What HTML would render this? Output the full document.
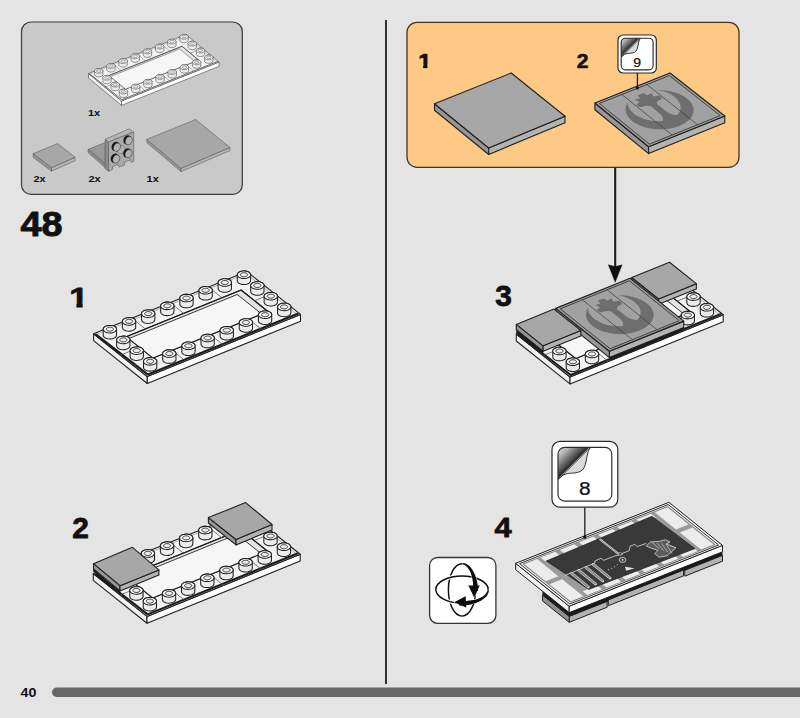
<!DOCTYPE html>
<html lang="en"><head><meta charset="utf-8"><title>48</title>
<style>
html,body{margin:0;padding:0;background:#e4e4e4;}
body{width:800px;height:718px;overflow:hidden;font-family:"Liberation Sans",sans-serif;}
svg{display:block;}
text{font-family:"Liberation Sans",sans-serif;fill:#111;}
.b{font-weight:bold;}
</style></head><body>
<svg width="800" height="718" viewBox="0 0 800 718">
<rect x="0" y="0" width="800" height="718" fill="#e4e4e4"/>
<rect x="21.5" y="22" width="220.8" height="172.4" rx="9.5" ry="9.5" fill="#c9c9c9" stroke="#3a3a3a" stroke-width="1.2"/>
<rect x="407" y="22.3" width="332" height="145" rx="10" ry="10" fill="#fdc984" stroke="#4a3518" stroke-width="1.3"/>
<line x1="386" y1="20" x2="386" y2="684" stroke="#1c1c1c" stroke-width="1.8"/>
<rect x="52" y="687.5" width="760" height="9.4" rx="4.7" ry="4.7" fill="#696765"/>
<text x="20.6" y="697.3" font-size="13.6" class="b" text-anchor="start" fill="#111" transform="translate(20.6 697.3) scale(1.05 1) translate(-20.6 -697.3)">40</text>
<text x="20.6" y="236.3" font-size="35" class="b" text-anchor="start" fill="#111" transform="translate(20.6 236.3) scale(1.08 1) translate(-20.6 -236.3)" stroke="#111" stroke-width="0.9" stroke-linejoin="round">48</text>
<clipPath id="t1"><rect x="66.45" y="282.38" width="22.8" height="20.23"/><rect x="75.28" y="282.38" width="5.13" height="25.65"/></clipPath>
<text x="69.3" y="306.6" font-size="28.5" class="b" text-anchor="start" fill="#111" transform="translate(69.3 306.6) scale(1.2 1) translate(-69.3 -306.6)" stroke="#111" stroke-width="0.8" stroke-linejoin="round" clip-path="url(#t1)">1</text>
<text x="72.2" y="538" font-size="29" class="b" text-anchor="start" fill="#111" transform="translate(72.2 538) scale(1.03 1) translate(-72.2 -538)" stroke="#111" stroke-width="0.8" stroke-linejoin="round">2</text>
<text x="495.2" y="306.2" font-size="29" class="b" text-anchor="start" fill="#111" transform="translate(495.2 306.2) scale(1.03 1) translate(-495.2 -306.2)" stroke="#111" stroke-width="0.8" stroke-linejoin="round">3</text>
<text x="494.6" y="537.2" font-size="28.5" class="b" text-anchor="start" fill="#111" transform="translate(494.6 537.2) scale(1.08 1) translate(-494.6 -537.2)" stroke="#111" stroke-width="0.8" stroke-linejoin="round">4</text>
<clipPath id="t2"><rect x="416.15" y="50.17" width="16.4" height="14.55"/><rect x="422.5" y="50.17" width="3.69" height="18.45"/></clipPath>
<text x="418.2" y="67.6" font-size="20.5" class="b" text-anchor="start" fill="#111" transform="translate(418.2 67.6) scale(1.15 1) translate(-418.2 -67.6)" stroke="#111" stroke-width="0.6" stroke-linejoin="round" clip-path="url(#t2)">1</text>
<text x="576.7" y="67.6" font-size="20.5" class="b" text-anchor="start" fill="#111" transform="translate(576.7 67.6) scale(1.03 1) translate(-576.7 -67.6)" stroke="#111" stroke-width="0.6" stroke-linejoin="round">2</text>
<text x="88" y="115.7" font-size="9.8" class="b" text-anchor="start" fill="#111" transform="translate(88 115.7) scale(1.12 1) translate(-88 -115.7)">1x</text>
<text x="33.4" y="182.2" font-size="9.8" class="b" text-anchor="start" fill="#111" transform="translate(33.4 182.2) scale(1.12 1) translate(-33.4 -182.2)">2x</text>
<text x="88.4" y="182.2" font-size="9.8" class="b" text-anchor="start" fill="#111" transform="translate(88.4 182.2) scale(1.12 1) translate(-88.4 -182.2)">2x</text>
<text x="146.6" y="182.2" font-size="9.8" class="b" text-anchor="start" fill="#111" transform="translate(146.6 182.2) scale(1.12 1) translate(-146.6 -182.2)">1x</text>
<polygon points="88.5,73.5 121.5,101 121.5,105.4 88.5,77.9" fill="#f1f1f1" stroke="#454545" stroke-width="0.62" stroke-linejoin="round" />
<polygon points="121.5,101 219,62 219,66.4 121.5,105.4" fill="#ffffff" stroke="#454545" stroke-width="0.62" stroke-linejoin="round" />
<polygon points="88.5,73.5 186,34.5 219,62 121.5,101" fill="#f3f3f3" stroke="#454545" stroke-width="0.62" stroke-linejoin="round" />
<polyline points="90.95,73.74 185.53,35.91 216.55,61.76" fill="none" stroke="#8a8a8a" stroke-width="0.37" stroke-linejoin="round" stroke-linecap="round" />
<polyline points="90.1,74.08 121.93,99.71 217.24,61.59" fill="none" stroke="#6a6a6a" stroke-width="1" stroke-linejoin="round" stroke-linecap="round" />
<clipPath id="c3"><polygon points="108.94,75.5 182.06,46.25 198.56,60 125.44,89.25"/></clipPath>
<polygon points="108.94,75.5 182.06,46.25 198.56,60 125.44,89.25" fill="#e4e4e4" stroke="#454545" stroke-width="0.62" stroke-linejoin="round" />
<g clip-path="url(#c3)">
<polygon points="108.94,77.17 179.62,48.9 199.43,65.4 128.74,93.67" fill="#f6f6f6" stroke="#454545" stroke-width="0.5" stroke-linejoin="round" />
</g>
<polygon points="108.94,75.5 182.06,46.25 198.56,60 125.44,89.25" fill="none" stroke="#454545" stroke-width="0.62" stroke-linejoin="round" />
<polyline points="113.29,64.09 121.12,70.62" fill="none" stroke="#555" stroke-width="0.43" stroke-linejoin="round" stroke-linecap="round" />
<polyline points="137.62,84.38 145.46,90.91" fill="none" stroke="#555" stroke-width="0.43" stroke-linejoin="round" stroke-linecap="round" />
<polyline points="137.66,54.34 145.5,60.88" fill="none" stroke="#555" stroke-width="0.43" stroke-linejoin="round" stroke-linecap="round" />
<polyline points="162,74.62 169.84,81.16" fill="none" stroke="#555" stroke-width="0.43" stroke-linejoin="round" stroke-linecap="round" />
<polyline points="162.04,44.59 169.88,51.12" fill="none" stroke="#555" stroke-width="0.43" stroke-linejoin="round" stroke-linecap="round" />
<polyline points="186.38,64.88 194.21,71.41" fill="none" stroke="#555" stroke-width="0.43" stroke-linejoin="round" stroke-linecap="round" />
<polyline points="105.61,87.01 117.19,82.38" fill="none" stroke="#555" stroke-width="0.43" stroke-linejoin="round" stroke-linecap="round" />
<polyline points="190.31,53.12 201.89,48.49" fill="none" stroke="#555" stroke-width="0.43" stroke-linejoin="round" stroke-linecap="round" />
<polygon points="179.85,36.64 180.03,36.11 180.41,35.61 180.97,35.17 181.68,34.82 182.51,34.56 183.42,34.41 184.36,34.38 185.28,34.47 186.14,34.67 186.89,34.98 187.5,35.39 187.94,35.86 188.18,36.37 188.21,36.91 188.21,40.51 188.03,41.04 187.66,41.54 187.1,41.98 186.38,42.33 185.55,42.59 184.64,42.74 183.7,42.77 182.78,42.68 181.92,42.48 181.17,42.17 180.56,41.76 180.12,41.29 179.88,40.78 179.85,40.24" fill="#ececec" stroke="#454545" stroke-width="0.59" stroke-linejoin="round" />
<polygon points="187.5,35.39 187.94,35.86 188.18,36.37 188.21,36.91 188.04,37.44 187.66,37.94 187.1,38.38 186.38,38.73 185.55,38.99 184.64,39.14 183.7,39.17 182.78,39.08 181.92,38.88 181.17,38.57 180.56,38.16 180.12,37.69 179.88,37.18 179.85,36.64 180.03,36.11 180.41,35.61 180.97,35.17 181.68,34.82 182.51,34.56 183.42,34.41 184.36,34.38 185.28,34.47 186.14,34.67 186.89,34.98" fill="#ffffff" stroke="#454545" stroke-width="0.59" stroke-linejoin="round" />
<polygon points="185.92,36.02 186.16,36.28 186.29,36.56 186.31,36.85 186.21,37.14 186,37.41 185.7,37.65 185.31,37.84 184.86,37.98 184.36,38.06 183.85,38.08 183.35,38.03 182.88,37.92 182.47,37.75 182.14,37.53 181.91,37.27 181.77,36.99 181.76,36.7 181.85,36.41 182.06,36.14 182.36,35.9 182.75,35.71 183.2,35.57 183.7,35.49 184.21,35.47 184.71,35.52 185.18,35.63 185.59,35.8" fill="#ebebeb" stroke="#454545" stroke-width="0.5" stroke-linejoin="round" />
<polygon points="167.66,41.52 167.84,40.98 168.22,40.49 168.78,40.05 169.49,39.69 170.32,39.43 171.23,39.28 172.17,39.25 173.09,39.34 173.95,39.55 174.71,39.86 175.32,40.26 175.75,40.73 175.99,41.25 176.03,41.78 176.03,45.38 175.85,45.92 175.47,46.41 174.91,46.85 174.19,47.21 173.36,47.47 172.46,47.62 171.52,47.65 170.59,47.56 169.73,47.35 168.98,47.04 168.37,46.64 167.93,46.17 167.69,45.65 167.66,45.12" fill="#ececec" stroke="#454545" stroke-width="0.59" stroke-linejoin="round" />
<polygon points="175.32,40.26 175.75,40.73 175.99,41.25 176.03,41.79 175.85,42.32 175.47,42.81 174.91,43.25 174.19,43.61 173.36,43.87 172.46,44.02 171.52,44.05 170.59,43.96 169.73,43.75 168.98,43.44 168.37,43.04 167.93,42.57 167.69,42.05 167.66,41.51 167.84,40.98 168.22,40.49 168.78,40.05 169.49,39.69 170.32,39.43 171.23,39.28 172.17,39.25 173.09,39.34 173.95,39.55 174.71,39.86" fill="#ffffff" stroke="#454545" stroke-width="0.59" stroke-linejoin="round" />
<polygon points="173.73,40.89 173.97,41.15 174.1,41.43 174.12,41.72 174.02,42.01 173.82,42.28 173.51,42.52 173.12,42.72 172.67,42.86 172.18,42.94 171.67,42.95 171.16,42.91 170.7,42.79 170.29,42.62 169.95,42.41 169.72,42.15 169.59,41.87 169.57,41.58 169.67,41.29 169.87,41.02 170.18,40.78 170.57,40.58 171.02,40.44 171.51,40.36 172.02,40.35 172.52,40.39 172.99,40.51 173.4,40.68" fill="#ebebeb" stroke="#454545" stroke-width="0.5" stroke-linejoin="round" />
<polygon points="188.1,43.52 188.28,42.98 188.66,42.49 189.22,42.05 189.93,41.69 190.76,41.43 191.67,41.28 192.61,41.25 193.53,41.34 194.39,41.55 195.14,41.86 195.75,42.26 196.19,42.73 196.43,43.25 196.46,43.78 196.46,47.38 196.28,47.92 195.91,48.41 195.35,48.85 194.63,49.21 193.8,49.47 192.89,49.62 191.95,49.65 191.03,49.56 190.17,49.35 189.42,49.04 188.81,48.64 188.37,48.17 188.13,47.65 188.1,47.12" fill="#ececec" stroke="#454545" stroke-width="0.59" stroke-linejoin="round" />
<polygon points="195.75,42.26 196.19,42.73 196.43,43.25 196.46,43.79 196.29,44.32 195.91,44.81 195.35,45.25 194.63,45.61 193.8,45.87 192.89,46.02 191.95,46.05 191.03,45.96 190.17,45.75 189.42,45.44 188.81,45.04 188.37,44.57 188.13,44.05 188.1,43.51 188.28,42.98 188.66,42.49 189.22,42.05 189.93,41.69 190.76,41.43 191.67,41.28 192.61,41.25 193.53,41.34 194.39,41.55 195.14,41.86" fill="#ffffff" stroke="#454545" stroke-width="0.59" stroke-linejoin="round" />
<polygon points="194.17,42.89 194.41,43.15 194.54,43.43 194.56,43.72 194.46,44.01 194.25,44.28 193.95,44.52 193.56,44.72 193.11,44.86 192.61,44.94 192.1,44.95 191.6,44.91 191.13,44.79 190.72,44.62 190.39,44.41 190.16,44.15 190.02,43.87 190.01,43.58 190.1,43.29 190.31,43.02 190.61,42.78 191,42.58 191.45,42.44 191.95,42.36 192.46,42.35 192.96,42.39 193.43,42.51 193.84,42.68" fill="#ebebeb" stroke="#454545" stroke-width="0.5" stroke-linejoin="round" />
<polygon points="155.47,46.39 155.65,45.86 156.03,45.36 156.59,44.92 157.31,44.57 158.14,44.31 159.04,44.16 159.98,44.13 160.91,44.22 161.77,44.42 162.52,44.73 163.13,45.14 163.57,45.61 163.81,46.12 163.84,46.66 163.84,50.26 163.66,50.79 163.28,51.29 162.72,51.73 162.01,52.08 161.18,52.34 160.27,52.49 159.33,52.52 158.41,52.43 157.55,52.23 156.79,51.92 156.18,51.51 155.75,51.04 155.51,50.53 155.47,49.99" fill="#ececec" stroke="#454545" stroke-width="0.59" stroke-linejoin="round" />
<polygon points="163.13,45.14 163.57,45.61 163.81,46.12 163.84,46.66 163.66,47.19 163.28,47.69 162.72,48.13 162.01,48.48 161.18,48.74 160.27,48.89 159.33,48.92 158.41,48.83 157.55,48.63 156.79,48.32 156.18,47.91 155.75,47.44 155.51,46.93 155.47,46.39 155.65,45.86 156.03,45.36 156.59,44.92 157.3,44.57 158.14,44.31 159.04,44.16 159.98,44.13 160.91,44.22 161.77,44.42 162.52,44.73" fill="#ffffff" stroke="#454545" stroke-width="0.59" stroke-linejoin="round" />
<polygon points="161.55,45.77 161.78,46.03 161.91,46.31 161.93,46.6 161.83,46.89 161.63,47.16 161.32,47.4 160.94,47.59 160.48,47.73 159.99,47.81 159.48,47.83 158.98,47.78 158.51,47.67 158.1,47.5 157.77,47.28 157.53,47.02 157.4,46.74 157.38,46.45 157.48,46.16 157.68,45.89 157.99,45.65 158.38,45.46 158.83,45.32 159.32,45.24 159.83,45.22 160.34,45.27 160.8,45.38 161.21,45.55" fill="#ebebeb" stroke="#454545" stroke-width="0.5" stroke-linejoin="round" />
<polygon points="196.35,50.39 196.53,49.86 196.91,49.36 197.47,48.92 198.18,48.57 199.01,48.31 199.92,48.16 200.86,48.13 201.78,48.22 202.64,48.42 203.39,48.73 204,49.14 204.44,49.61 204.68,50.12 204.71,50.66 204.71,54.26 204.53,54.79 204.16,55.29 203.6,55.73 202.88,56.08 202.05,56.34 201.14,56.49 200.2,56.52 199.28,56.43 198.42,56.23 197.67,55.92 197.06,55.51 196.62,55.04 196.38,54.53 196.35,53.99" fill="#ececec" stroke="#454545" stroke-width="0.59" stroke-linejoin="round" />
<polygon points="204,49.14 204.44,49.61 204.68,50.12 204.71,50.66 204.54,51.19 204.16,51.69 203.6,52.13 202.88,52.48 202.05,52.74 201.14,52.89 200.2,52.92 199.28,52.83 198.42,52.63 197.67,52.32 197.06,51.91 196.62,51.44 196.38,50.93 196.35,50.39 196.53,49.86 196.91,49.36 197.47,48.92 198.18,48.57 199.01,48.31 199.92,48.16 200.86,48.13 201.78,48.22 202.64,48.42 203.39,48.73" fill="#ffffff" stroke="#454545" stroke-width="0.59" stroke-linejoin="round" />
<polygon points="202.42,49.77 202.66,50.03 202.79,50.31 202.81,50.6 202.71,50.89 202.5,51.16 202.2,51.4 201.81,51.59 201.36,51.73 200.86,51.81 200.35,51.83 199.85,51.78 199.38,51.67 198.97,51.5 198.64,51.28 198.41,51.02 198.27,50.74 198.26,50.45 198.35,50.16 198.56,49.89 198.86,49.65 199.25,49.46 199.7,49.32 200.2,49.24 200.71,49.22 201.21,49.27 201.68,49.38 202.09,49.55" fill="#ebebeb" stroke="#454545" stroke-width="0.5" stroke-linejoin="round" />
<polygon points="143.29,51.27 143.47,50.73 143.84,50.24 144.4,49.8 145.12,49.44 145.95,49.18 146.86,49.03 147.8,49 148.72,49.09 149.58,49.3 150.33,49.61 150.94,50.01 151.38,50.48 151.62,51 151.65,51.53 151.65,55.13 151.47,55.67 151.09,56.16 150.53,56.6 149.82,56.96 148.99,57.22 148.08,57.37 147.14,57.4 146.22,57.31 145.36,57.1 144.61,56.79 144,56.39 143.56,55.92 143.32,55.4 143.29,54.87" fill="#ececec" stroke="#454545" stroke-width="0.59" stroke-linejoin="round" />
<polygon points="150.94,50.01 151.38,50.48 151.62,51 151.65,51.54 151.47,52.07 151.09,52.56 150.53,53 149.82,53.36 148.99,53.62 148.08,53.77 147.14,53.8 146.22,53.71 145.36,53.5 144.61,53.19 144,52.79 143.56,52.32 143.32,51.8 143.29,51.26 143.46,50.73 143.84,50.24 144.4,49.8 145.12,49.44 145.95,49.18 146.86,49.03 147.8,49 148.72,49.09 149.58,49.3 150.33,49.61" fill="#ffffff" stroke="#454545" stroke-width="0.59" stroke-linejoin="round" />
<polygon points="149.36,50.64 149.59,50.9 149.73,51.18 149.74,51.47 149.65,51.76 149.44,52.03 149.14,52.27 148.75,52.47 148.3,52.61 147.8,52.69 147.29,52.7 146.79,52.66 146.32,52.54 145.91,52.37 145.58,52.16 145.34,51.9 145.21,51.62 145.19,51.33 145.29,51.04 145.5,50.77 145.8,50.53 146.19,50.33 146.64,50.19 147.14,50.11 147.65,50.1 148.15,50.14 148.62,50.26 149.03,50.43" fill="#ebebeb" stroke="#454545" stroke-width="0.5" stroke-linejoin="round" />
<polygon points="131.1,56.14 131.28,55.61 131.66,55.11 132.22,54.67 132.93,54.32 133.76,54.06 134.67,53.91 135.61,53.88 136.53,53.97 137.39,54.17 138.14,54.48 138.75,54.89 139.19,55.36 139.43,55.87 139.46,56.41 139.46,60.01 139.28,60.54 138.91,61.04 138.35,61.48 137.63,61.83 136.8,62.09 135.89,62.24 134.95,62.27 134.03,62.18 133.17,61.98 132.42,61.67 131.81,61.26 131.37,60.79 131.13,60.28 131.1,59.74" fill="#ececec" stroke="#454545" stroke-width="0.59" stroke-linejoin="round" />
<polygon points="138.75,54.89 139.19,55.36 139.43,55.87 139.46,56.41 139.29,56.94 138.91,57.44 138.35,57.88 137.63,58.23 136.8,58.49 135.89,58.64 134.95,58.67 134.03,58.58 133.17,58.38 132.42,58.07 131.81,57.66 131.37,57.19 131.13,56.68 131.1,56.14 131.28,55.61 131.66,55.11 132.22,54.67 132.93,54.32 133.76,54.06 134.67,53.91 135.61,53.88 136.53,53.97 137.39,54.17 138.14,54.48" fill="#ffffff" stroke="#454545" stroke-width="0.59" stroke-linejoin="round" />
<polygon points="137.17,55.52 137.41,55.78 137.54,56.06 137.56,56.35 137.46,56.64 137.25,56.91 136.95,57.15 136.56,57.34 136.11,57.48 135.61,57.56 135.1,57.58 134.6,57.53 134.13,57.42 133.72,57.25 133.39,57.03 133.16,56.77 133.02,56.49 133.01,56.2 133.1,55.91 133.31,55.64 133.61,55.4 134,55.21 134.45,55.07 134.95,54.99 135.46,54.97 135.96,55.02 136.43,55.13 136.84,55.3" fill="#ebebeb" stroke="#454545" stroke-width="0.5" stroke-linejoin="round" />
<polygon points="204.6,57.27 204.78,56.73 205.16,56.24 205.72,55.8 206.43,55.44 207.26,55.18 208.17,55.03 209.11,55 210.03,55.09 210.89,55.3 211.64,55.61 212.25,56.01 212.69,56.48 212.93,57 212.96,57.53 212.96,61.13 212.78,61.67 212.41,62.16 211.85,62.6 211.13,62.96 210.3,63.22 209.39,63.37 208.45,63.4 207.53,63.31 206.67,63.1 205.92,62.79 205.31,62.39 204.87,61.92 204.63,61.4 204.6,60.87" fill="#ececec" stroke="#454545" stroke-width="0.59" stroke-linejoin="round" />
<polygon points="212.25,56.01 212.69,56.48 212.93,57 212.96,57.54 212.79,58.07 212.41,58.56 211.85,59 211.13,59.36 210.3,59.62 209.39,59.77 208.45,59.8 207.53,59.71 206.67,59.5 205.92,59.19 205.31,58.79 204.87,58.32 204.63,57.8 204.6,57.26 204.78,56.73 205.16,56.24 205.72,55.8 206.43,55.44 207.26,55.18 208.17,55.03 209.11,55 210.03,55.09 210.89,55.3 211.64,55.61" fill="#ffffff" stroke="#454545" stroke-width="0.59" stroke-linejoin="round" />
<polygon points="210.67,56.64 210.91,56.9 211.04,57.18 211.06,57.47 210.96,57.76 210.75,58.03 210.45,58.27 210.06,58.47 209.61,58.61 209.11,58.69 208.6,58.7 208.1,58.66 207.63,58.54 207.22,58.37 206.89,58.16 206.66,57.9 206.52,57.62 206.51,57.33 206.6,57.04 206.81,56.77 207.11,56.53 207.5,56.33 207.95,56.19 208.45,56.11 208.96,56.1 209.46,56.14 209.93,56.26 210.34,56.43" fill="#ebebeb" stroke="#454545" stroke-width="0.5" stroke-linejoin="round" />
<polygon points="118.91,61.02 119.09,60.48 119.47,59.99 120.03,59.55 120.74,59.19 121.57,58.93 122.48,58.78 123.42,58.75 124.34,58.84 125.2,59.05 125.96,59.36 126.57,59.76 127,60.23 127.24,60.75 127.28,61.28 127.28,64.89 127.1,65.42 126.72,65.91 126.16,66.35 125.44,66.71 124.61,66.97 123.7,67.12 122.77,67.15 121.84,67.06 120.98,66.85 120.23,66.54 119.62,66.14 119.18,65.67 118.94,65.15 118.91,64.61" fill="#ececec" stroke="#454545" stroke-width="0.59" stroke-linejoin="round" />
<polygon points="126.57,59.76 127,60.23 127.24,60.75 127.28,61.29 127.1,61.82 126.72,62.31 126.16,62.75 125.44,63.11 124.61,63.37 123.71,63.52 122.77,63.55 121.84,63.46 120.98,63.25 120.23,62.94 119.62,62.54 119.18,62.07 118.94,61.55 118.91,61.01 119.09,60.48 119.47,59.99 120.03,59.55 120.74,59.19 121.57,58.93 122.48,58.78 123.42,58.75 124.34,58.84 125.2,59.05 125.96,59.36" fill="#ffffff" stroke="#454545" stroke-width="0.59" stroke-linejoin="round" />
<polygon points="124.98,60.39 125.22,60.65 125.35,60.93 125.37,61.22 125.27,61.51 125.07,61.78 124.76,62.02 124.37,62.22 123.92,62.36 123.43,62.44 122.92,62.45 122.41,62.41 121.95,62.29 121.54,62.12 121.2,61.91 120.97,61.65 120.84,61.37 120.82,61.08 120.92,60.79 121.12,60.52 121.43,60.28 121.82,60.08 122.27,59.94 122.76,59.86 123.27,59.85 123.77,59.89 124.24,60.01 124.65,60.18" fill="#ebebeb" stroke="#454545" stroke-width="0.5" stroke-linejoin="round" />
<polygon points="192.41,62.14 192.59,61.61 192.97,61.11 193.53,60.67 194.24,60.32 195.07,60.06 195.98,59.91 196.92,59.88 197.84,59.97 198.7,60.17 199.46,60.48 200.07,60.89 200.5,61.36 200.74,61.87 200.78,62.41 200.78,66.01 200.6,66.54 200.22,67.04 199.66,67.48 198.94,67.83 198.11,68.09 197.21,68.24 196.27,68.27 195.34,68.18 194.48,67.98 193.73,67.67 193.12,67.26 192.68,66.79 192.44,66.28 192.41,65.74" fill="#ececec" stroke="#454545" stroke-width="0.59" stroke-linejoin="round" />
<polygon points="200.07,60.89 200.5,61.36 200.74,61.87 200.78,62.41 200.6,62.94 200.22,63.44 199.66,63.88 198.94,64.23 198.11,64.49 197.21,64.64 196.27,64.67 195.34,64.58 194.48,64.38 193.73,64.07 193.12,63.66 192.68,63.19 192.44,62.68 192.41,62.14 192.59,61.61 192.97,61.11 193.53,60.67 194.24,60.32 195.07,60.06 195.98,59.91 196.92,59.88 197.84,59.97 198.7,60.17 199.46,60.48" fill="#ffffff" stroke="#454545" stroke-width="0.59" stroke-linejoin="round" />
<polygon points="198.48,61.52 198.72,61.78 198.85,62.06 198.87,62.35 198.77,62.64 198.57,62.91 198.26,63.15 197.87,63.34 197.42,63.48 196.93,63.56 196.42,63.58 195.91,63.53 195.45,63.42 195.04,63.25 194.7,63.03 194.47,62.77 194.34,62.49 194.32,62.2 194.42,61.91 194.62,61.64 194.93,61.4 195.31,61.21 195.77,61.07 196.26,60.99 196.77,60.97 197.27,61.02 197.74,61.13 198.15,61.3" fill="#ebebeb" stroke="#454545" stroke-width="0.5" stroke-linejoin="round" />
<polygon points="106.72,65.89 106.9,65.36 107.28,64.86 107.84,64.42 108.56,64.07 109.39,63.81 110.3,63.66 111.23,63.63 112.16,63.72 113.02,63.92 113.77,64.23 114.38,64.64 114.82,65.11 115.06,65.62 115.09,66.16 115.09,69.76 114.91,70.29 114.53,70.79 113.97,71.23 113.26,71.58 112.43,71.84 111.52,71.99 110.58,72.02 109.66,71.93 108.8,71.73 108.04,71.42 107.43,71.01 107,70.54 106.76,70.03 106.72,69.49" fill="#ececec" stroke="#454545" stroke-width="0.59" stroke-linejoin="round" />
<polygon points="114.38,64.64 114.82,65.11 115.06,65.62 115.09,66.16 114.91,66.69 114.53,67.19 113.97,67.63 113.26,67.98 112.43,68.24 111.52,68.39 110.58,68.42 109.66,68.33 108.8,68.13 108.04,67.82 107.43,67.41 107,66.94 106.76,66.43 106.72,65.89 106.9,65.36 107.28,64.86 107.84,64.42 108.56,64.07 109.39,63.81 110.29,63.66 111.23,63.63 112.16,63.72 113.02,63.92 113.77,64.23" fill="#ffffff" stroke="#454545" stroke-width="0.59" stroke-linejoin="round" />
<polygon points="112.8,65.27 113.03,65.53 113.16,65.81 113.18,66.1 113.08,66.39 112.88,66.66 112.57,66.9 112.19,67.09 111.73,67.23 111.24,67.31 110.73,67.33 110.23,67.28 109.76,67.17 109.35,67 109.02,66.78 108.78,66.52 108.65,66.24 108.63,65.95 108.73,65.66 108.93,65.39 109.24,65.15 109.63,64.96 110.08,64.82 110.57,64.74 111.08,64.72 111.59,64.77 112.05,64.88 112.46,65.05" fill="#ebebeb" stroke="#454545" stroke-width="0.5" stroke-linejoin="round" />
<polygon points="180.22,67.02 180.4,66.48 180.78,65.99 181.34,65.55 182.06,65.19 182.89,64.93 183.79,64.78 184.73,64.75 185.66,64.84 186.52,65.05 187.27,65.36 187.88,65.76 188.32,66.23 188.56,66.75 188.59,67.28 188.59,70.89 188.41,71.42 188.03,71.91 187.47,72.35 186.76,72.71 185.93,72.97 185.02,73.12 184.08,73.15 183.16,73.06 182.3,72.85 181.54,72.54 180.93,72.14 180.5,71.67 180.26,71.15 180.22,70.61" fill="#ececec" stroke="#454545" stroke-width="0.59" stroke-linejoin="round" />
<polygon points="187.88,65.76 188.32,66.23 188.56,66.75 188.59,67.29 188.41,67.82 188.03,68.31 187.47,68.75 186.76,69.11 185.93,69.37 185.02,69.52 184.08,69.55 183.16,69.46 182.3,69.25 181.54,68.94 180.93,68.54 180.5,68.07 180.26,67.55 180.22,67.01 180.4,66.48 180.78,65.99 181.34,65.55 182.05,65.19 182.89,64.93 183.79,64.78 184.73,64.75 185.66,64.84 186.52,65.05 187.27,65.36" fill="#ffffff" stroke="#454545" stroke-width="0.59" stroke-linejoin="round" />
<polygon points="186.3,66.39 186.53,66.65 186.66,66.93 186.68,67.22 186.58,67.51 186.38,67.78 186.07,68.02 185.69,68.22 185.23,68.36 184.74,68.44 184.23,68.45 183.73,68.41 183.26,68.29 182.85,68.12 182.52,67.91 182.28,67.65 182.15,67.37 182.13,67.08 182.23,66.79 182.43,66.52 182.74,66.28 183.13,66.08 183.58,65.94 184.07,65.86 184.58,65.85 185.09,65.89 185.55,66.01 185.96,66.18" fill="#ebebeb" stroke="#454545" stroke-width="0.5" stroke-linejoin="round" />
<polygon points="94.54,70.77 94.72,70.23 95.09,69.74 95.65,69.3 96.37,68.94 97.2,68.68 98.11,68.53 99.05,68.5 99.97,68.59 100.83,68.8 101.58,69.11 102.19,69.51 102.63,69.98 102.87,70.5 102.9,71.03 102.9,74.64 102.72,75.17 102.34,75.66 101.78,76.1 101.07,76.46 100.24,76.72 99.33,76.87 98.39,76.9 97.47,76.81 96.61,76.6 95.86,76.29 95.25,75.89 94.81,75.42 94.57,74.9 94.54,74.36" fill="#ececec" stroke="#454545" stroke-width="0.59" stroke-linejoin="round" />
<polygon points="102.19,69.51 102.63,69.98 102.87,70.5 102.9,71.04 102.72,71.57 102.34,72.06 101.78,72.5 101.07,72.86 100.24,73.12 99.33,73.27 98.39,73.3 97.47,73.21 96.61,73 95.86,72.69 95.25,72.29 94.81,71.82 94.57,71.3 94.54,70.76 94.71,70.23 95.09,69.74 95.65,69.3 96.37,68.94 97.2,68.68 98.11,68.53 99.05,68.5 99.97,68.59 100.83,68.8 101.58,69.11" fill="#ffffff" stroke="#454545" stroke-width="0.59" stroke-linejoin="round" />
<polygon points="100.61,70.14 100.84,70.4 100.98,70.68 100.99,70.97 100.9,71.26 100.69,71.53 100.39,71.77 100,71.97 99.55,72.11 99.05,72.19 98.54,72.2 98.04,72.16 97.57,72.04 97.16,71.87 96.83,71.66 96.59,71.4 96.46,71.12 96.44,70.83 96.54,70.54 96.75,70.27 97.05,70.03 97.44,69.83 97.89,69.69 98.39,69.61 98.9,69.6 99.4,69.64 99.87,69.76 100.28,69.93" fill="#ebebeb" stroke="#454545" stroke-width="0.5" stroke-linejoin="round" />
<polygon points="168.04,71.89 168.22,71.36 168.59,70.86 169.15,70.42 169.87,70.07 170.7,69.81 171.61,69.66 172.55,69.63 173.47,69.72 174.33,69.92 175.08,70.23 175.69,70.64 176.13,71.11 176.37,71.62 176.4,72.16 176.4,75.76 176.22,76.29 175.84,76.79 175.28,77.23 174.57,77.58 173.74,77.84 172.83,77.99 171.89,78.02 170.97,77.93 170.11,77.73 169.36,77.42 168.75,77.01 168.31,76.54 168.07,76.03 168.04,75.49" fill="#ececec" stroke="#454545" stroke-width="0.59" stroke-linejoin="round" />
<polygon points="175.69,70.64 176.13,71.11 176.37,71.62 176.4,72.16 176.22,72.69 175.84,73.19 175.28,73.63 174.57,73.98 173.74,74.24 172.83,74.39 171.89,74.42 170.97,74.33 170.11,74.13 169.36,73.82 168.75,73.41 168.31,72.94 168.07,72.43 168.04,71.89 168.21,71.36 168.59,70.86 169.15,70.42 169.87,70.07 170.7,69.81 171.61,69.66 172.55,69.63 173.47,69.72 174.33,69.92 175.08,70.23" fill="#ffffff" stroke="#454545" stroke-width="0.59" stroke-linejoin="round" />
<polygon points="174.11,71.27 174.34,71.53 174.48,71.81 174.49,72.1 174.4,72.39 174.19,72.66 173.89,72.9 173.5,73.09 173.05,73.23 172.55,73.31 172.04,73.33 171.54,73.28 171.07,73.17 170.66,73 170.33,72.78 170.09,72.52 169.96,72.24 169.94,71.95 170.04,71.66 170.25,71.39 170.55,71.15 170.94,70.96 171.39,70.82 171.89,70.74 172.4,70.72 172.9,70.77 173.37,70.88 173.78,71.05" fill="#ebebeb" stroke="#454545" stroke-width="0.5" stroke-linejoin="round" />
<polygon points="155.85,76.77 156.03,76.23 156.41,75.74 156.97,75.3 157.68,74.94 158.51,74.68 159.42,74.53 160.36,74.5 161.28,74.59 162.14,74.8 162.89,75.11 163.5,75.51 163.94,75.98 164.18,76.5 164.21,77.03 164.21,80.64 164.03,81.17 163.66,81.66 163.1,82.1 162.38,82.46 161.55,82.72 160.64,82.87 159.7,82.9 158.78,82.81 157.92,82.6 157.17,82.29 156.56,81.89 156.12,81.42 155.88,80.9 155.85,80.36" fill="#ececec" stroke="#454545" stroke-width="0.59" stroke-linejoin="round" />
<polygon points="163.5,75.51 163.94,75.98 164.18,76.5 164.21,77.04 164.04,77.57 163.66,78.06 163.1,78.5 162.38,78.86 161.55,79.12 160.64,79.27 159.7,79.3 158.78,79.21 157.92,79 157.17,78.69 156.56,78.29 156.12,77.82 155.88,77.3 155.85,76.76 156.03,76.23 156.41,75.74 156.97,75.3 157.68,74.94 158.51,74.68 159.42,74.53 160.36,74.5 161.28,74.59 162.14,74.8 162.89,75.11" fill="#ffffff" stroke="#454545" stroke-width="0.59" stroke-linejoin="round" />
<polygon points="161.92,76.14 162.16,76.4 162.29,76.68 162.31,76.97 162.21,77.26 162,77.53 161.7,77.77 161.31,77.97 160.86,78.11 160.36,78.19 159.85,78.2 159.35,78.16 158.88,78.04 158.47,77.87 158.14,77.66 157.91,77.4 157.77,77.12 157.76,76.83 157.85,76.54 158.06,76.27 158.36,76.03 158.75,75.83 159.2,75.69 159.7,75.61 160.21,75.6 160.71,75.64 161.18,75.76 161.59,75.93" fill="#ebebeb" stroke="#454545" stroke-width="0.5" stroke-linejoin="round" />
<polygon points="102.79,77.64 102.97,77.11 103.34,76.61 103.9,76.17 104.62,75.82 105.45,75.56 106.36,75.41 107.3,75.38 108.22,75.47 109.08,75.67 109.83,75.98 110.44,76.39 110.88,76.86 111.12,77.37 111.15,77.91 111.15,81.51 110.97,82.04 110.59,82.54 110.03,82.98 109.32,83.33 108.49,83.59 107.58,83.74 106.64,83.77 105.72,83.68 104.86,83.48 104.11,83.17 103.5,82.76 103.06,82.29 102.82,81.78 102.79,81.24" fill="#ececec" stroke="#454545" stroke-width="0.59" stroke-linejoin="round" />
<polygon points="110.44,76.39 110.88,76.86 111.12,77.37 111.15,77.91 110.97,78.44 110.59,78.94 110.03,79.38 109.32,79.73 108.49,79.99 107.58,80.14 106.64,80.17 105.72,80.08 104.86,79.88 104.11,79.57 103.5,79.16 103.06,78.69 102.82,78.18 102.79,77.64 102.96,77.11 103.34,76.61 103.9,76.17 104.62,75.82 105.45,75.56 106.36,75.41 107.3,75.38 108.22,75.47 109.08,75.67 109.83,75.98" fill="#ffffff" stroke="#454545" stroke-width="0.59" stroke-linejoin="round" />
<polygon points="108.86,77.02 109.09,77.28 109.23,77.56 109.24,77.85 109.15,78.14 108.94,78.41 108.64,78.65 108.25,78.84 107.8,78.98 107.3,79.06 106.79,79.08 106.29,79.03 105.82,78.92 105.41,78.75 105.08,78.53 104.84,78.27 104.71,77.99 104.69,77.7 104.79,77.41 105,77.14 105.3,76.9 105.69,76.71 106.14,76.57 106.64,76.49 107.15,76.47 107.65,76.52 108.12,76.63 108.53,76.8" fill="#ebebeb" stroke="#454545" stroke-width="0.5" stroke-linejoin="round" />
<polygon points="143.66,81.64 143.84,81.11 144.22,80.61 144.78,80.17 145.49,79.82 146.32,79.56 147.23,79.41 148.17,79.38 149.09,79.47 149.95,79.67 150.71,79.98 151.32,80.39 151.75,80.86 151.99,81.37 152.03,81.91 152.03,85.51 151.85,86.04 151.47,86.54 150.91,86.98 150.19,87.33 149.36,87.59 148.46,87.74 147.52,87.77 146.59,87.68 145.73,87.48 144.98,87.17 144.37,86.76 143.93,86.29 143.69,85.78 143.66,85.24" fill="#ececec" stroke="#454545" stroke-width="0.59" stroke-linejoin="round" />
<polygon points="151.32,80.39 151.75,80.86 151.99,81.37 152.03,81.91 151.85,82.44 151.47,82.94 150.91,83.38 150.19,83.73 149.36,83.99 148.46,84.14 147.52,84.17 146.59,84.08 145.73,83.88 144.98,83.57 144.37,83.16 143.93,82.69 143.69,82.18 143.66,81.64 143.84,81.11 144.22,80.61 144.78,80.17 145.49,79.82 146.32,79.56 147.23,79.41 148.17,79.38 149.09,79.47 149.95,79.67 150.71,79.98" fill="#ffffff" stroke="#454545" stroke-width="0.59" stroke-linejoin="round" />
<polygon points="149.73,81.02 149.97,81.28 150.1,81.56 150.12,81.85 150.02,82.14 149.82,82.41 149.51,82.65 149.12,82.84 148.67,82.98 148.18,83.06 147.67,83.08 147.16,83.03 146.7,82.92 146.29,82.75 145.95,82.53 145.72,82.27 145.59,81.99 145.57,81.7 145.67,81.41 145.87,81.14 146.18,80.9 146.56,80.71 147.02,80.57 147.51,80.49 148.02,80.47 148.52,80.52 148.99,80.63 149.4,80.8" fill="#ebebeb" stroke="#454545" stroke-width="0.5" stroke-linejoin="round" />
<polygon points="111.04,84.52 111.22,83.98 111.59,83.49 112.15,83.05 112.87,82.69 113.7,82.43 114.61,82.28 115.55,82.25 116.47,82.34 117.33,82.55 118.08,82.86 118.69,83.26 119.13,83.73 119.37,84.25 119.4,84.78 119.4,88.39 119.22,88.92 118.84,89.41 118.28,89.85 117.57,90.21 116.74,90.47 115.83,90.62 114.89,90.65 113.97,90.56 113.11,90.35 112.36,90.04 111.75,89.64 111.31,89.17 111.07,88.65 111.04,88.11" fill="#ececec" stroke="#454545" stroke-width="0.59" stroke-linejoin="round" />
<polygon points="118.69,83.26 119.13,83.73 119.37,84.25 119.4,84.79 119.22,85.32 118.84,85.81 118.28,86.25 117.57,86.61 116.74,86.87 115.83,87.02 114.89,87.05 113.97,86.96 113.11,86.75 112.36,86.44 111.75,86.04 111.31,85.57 111.07,85.05 111.04,84.51 111.21,83.98 111.59,83.49 112.15,83.05 112.87,82.69 113.7,82.43 114.61,82.28 115.55,82.25 116.47,82.34 117.33,82.55 118.08,82.86" fill="#ffffff" stroke="#454545" stroke-width="0.59" stroke-linejoin="round" />
<polygon points="117.11,83.89 117.34,84.15 117.48,84.43 117.49,84.72 117.4,85.01 117.19,85.28 116.89,85.52 116.5,85.72 116.05,85.86 115.55,85.94 115.04,85.95 114.54,85.91 114.07,85.79 113.66,85.62 113.33,85.41 113.09,85.15 112.96,84.87 112.94,84.58 113.04,84.29 113.25,84.02 113.55,83.78 113.94,83.58 114.39,83.44 114.89,83.36 115.4,83.35 115.9,83.39 116.37,83.51 116.78,83.68" fill="#ebebeb" stroke="#454545" stroke-width="0.5" stroke-linejoin="round" />
<polygon points="131.47,86.52 131.65,85.98 132.03,85.49 132.59,85.05 133.31,84.69 134.14,84.43 135.04,84.28 135.98,84.25 136.91,84.34 137.77,84.55 138.52,84.86 139.13,85.26 139.57,85.73 139.81,86.25 139.84,86.78 139.84,90.39 139.66,90.92 139.28,91.41 138.72,91.85 138.01,92.21 137.18,92.47 136.27,92.62 135.33,92.65 134.41,92.56 133.55,92.35 132.79,92.04 132.18,91.64 131.75,91.17 131.51,90.65 131.47,90.11" fill="#ececec" stroke="#454545" stroke-width="0.59" stroke-linejoin="round" />
<polygon points="139.13,85.26 139.57,85.73 139.81,86.25 139.84,86.79 139.66,87.32 139.28,87.81 138.72,88.25 138.01,88.61 137.18,88.87 136.27,89.02 135.33,89.05 134.41,88.96 133.55,88.75 132.79,88.44 132.18,88.04 131.75,87.57 131.51,87.05 131.47,86.51 131.65,85.98 132.03,85.49 132.59,85.05 133.31,84.69 134.14,84.43 135.04,84.28 135.98,84.25 136.91,84.34 137.77,84.55 138.52,84.86" fill="#ffffff" stroke="#454545" stroke-width="0.59" stroke-linejoin="round" />
<polygon points="137.55,85.89 137.78,86.15 137.91,86.43 137.93,86.72 137.83,87.01 137.63,87.28 137.32,87.52 136.94,87.72 136.48,87.86 135.99,87.94 135.48,87.95 134.98,87.91 134.51,87.79 134.1,87.62 133.77,87.41 133.53,87.15 133.4,86.87 133.38,86.58 133.48,86.29 133.68,86.02 133.99,85.78 134.38,85.58 134.83,85.44 135.32,85.36 135.83,85.35 136.34,85.39 136.8,85.51 137.21,85.68" fill="#ebebeb" stroke="#454545" stroke-width="0.5" stroke-linejoin="round" />
<polygon points="119.29,91.39 119.47,90.86 119.84,90.36 120.4,89.92 121.12,89.57 121.95,89.31 122.86,89.16 123.8,89.13 124.72,89.22 125.58,89.42 126.33,89.73 126.94,90.14 127.38,90.61 127.62,91.12 127.65,91.66 127.65,95.26 127.47,95.79 127.09,96.29 126.53,96.73 125.82,97.08 124.99,97.34 124.08,97.49 123.14,97.52 122.22,97.43 121.36,97.23 120.61,96.92 120,96.51 119.56,96.04 119.32,95.53 119.29,94.99" fill="#ececec" stroke="#454545" stroke-width="0.59" stroke-linejoin="round" />
<polygon points="126.94,90.14 127.38,90.61 127.62,91.12 127.65,91.66 127.47,92.19 127.09,92.69 126.53,93.13 125.82,93.48 124.99,93.74 124.08,93.89 123.14,93.92 122.22,93.83 121.36,93.63 120.61,93.32 120,92.91 119.56,92.44 119.32,91.93 119.29,91.39 119.46,90.86 119.84,90.36 120.4,89.92 121.12,89.57 121.95,89.31 122.86,89.16 123.8,89.13 124.72,89.22 125.58,89.42 126.33,89.73" fill="#ffffff" stroke="#454545" stroke-width="0.59" stroke-linejoin="round" />
<polygon points="125.36,90.77 125.59,91.03 125.73,91.31 125.74,91.6 125.65,91.89 125.44,92.16 125.14,92.4 124.75,92.59 124.3,92.73 123.8,92.81 123.29,92.83 122.79,92.78 122.32,92.67 121.91,92.5 121.58,92.28 121.34,92.02 121.21,91.74 121.19,91.45 121.29,91.16 121.5,90.89 121.8,90.65 122.19,90.46 122.64,90.32 123.14,90.24 123.65,90.22 124.15,90.27 124.62,90.38 125.03,90.55" fill="#ebebeb" stroke="#454545" stroke-width="0.5" stroke-linejoin="round" />
<polygon points="33.1,153.7 51.5,167.7 51.5,171.2 33.1,157.2" fill="#979797" stroke="#555555" stroke-width="0.55" stroke-linejoin="round" />
<polygon points="51.5,167.7 75.1,157.2 75.1,160.7 51.5,171.2" fill="#b3b3b3" stroke="#555555" stroke-width="0.55" stroke-linejoin="round" />
<polygon points="33.1,153.7 57.6,143.6 75.1,157.2 51.5,167.7" fill="#a7a7a7" stroke="#555555" stroke-width="0.55" stroke-linejoin="round" />
<polygon points="146.8,139.4 181,168.4 181,171.6 146.8,142.6" fill="#979797" stroke="#555555" stroke-width="0.55" stroke-linejoin="round" />
<polygon points="181,168.4 230,147.4 230,150.6 181,171.6" fill="#b3b3b3" stroke="#555555" stroke-width="0.55" stroke-linejoin="round" />
<polygon points="146.8,139.4 195.6,119.5 230,147.4 181,168.4" fill="#a7a7a7" stroke="#555555" stroke-width="0.55" stroke-linejoin="round" />
<polygon points="88.1,149.3 105.2,142.6 105.2,163.9" fill="#999999" stroke="#555555" stroke-width="0.55" stroke-linejoin="round" />
<polygon points="88.1,149.3 105.2,163.9 105.2,167.6 88.1,152.5" fill="#8c8c8c" stroke="#555555" stroke-width="0.55" stroke-linejoin="round" />
<polygon points="105.2,139.3 108.5,142 108.5,171.2 105.2,168.8" fill="#8b8b8b" stroke="#555555" stroke-width="0.55" stroke-linejoin="round" />
<polygon points="105.2,139.3 129.2,128.8 133.7,132 108.5,142" fill="#b6b6b6" stroke="#555555" stroke-width="0.55" stroke-linejoin="round" />
<polygon points="108.5,142 133.7,132 133.7,161.5 131.2,162.4 130.5,159.8 124.6,162 124.3,165.1 119,167.1 118.3,164.4 112.6,166.6 112.3,169.7 108.5,171.2" fill="#aaaaaa" stroke="#555555" stroke-width="0.55" stroke-linejoin="round" />
<ellipse cx="121.2" cy="149.6" rx="3.5" ry="4.2" transform="rotate(20 121.2 149.6)" fill="#b2b2b2" stroke="#6a6a6a" stroke-width="0.5"/>
<ellipse cx="127.3" cy="139.9" rx="3.8" ry="4.8" transform="rotate(22 127.3 139.9)" fill="#161616"/>
<ellipse cx="128.8" cy="140.7" rx="3.3" ry="4.3" transform="rotate(22 128.8 140.7)" fill="#b3b3b3" stroke="#222" stroke-width="0.45"/>
<ellipse cx="115.5" cy="146.4" rx="3.8" ry="4.8" transform="rotate(22 115.5 146.4)" fill="#161616"/>
<ellipse cx="117" cy="147.2" rx="3.3" ry="4.3" transform="rotate(22 117 147.2)" fill="#b3b3b3" stroke="#222" stroke-width="0.45"/>
<ellipse cx="127.1" cy="152.9" rx="3.8" ry="4.8" transform="rotate(22 127.1 152.9)" fill="#161616"/>
<ellipse cx="128.6" cy="153.7" rx="3.3" ry="4.3" transform="rotate(22 128.6 153.7)" fill="#b3b3b3" stroke="#222" stroke-width="0.45"/>
<ellipse cx="114.7" cy="158.2" rx="3.8" ry="4.8" transform="rotate(22 114.7 158.2)" fill="#161616"/>
<ellipse cx="116.2" cy="159" rx="3.3" ry="4.3" transform="rotate(22 116.2 159)" fill="#b3b3b3" stroke="#222" stroke-width="0.45"/>
<polygon points="93.6,333.7 147.3,376.6 147.3,383.5 93.6,340.6" fill="#f1f1f1" stroke="#1f1f1f" stroke-width="1.1" stroke-linejoin="round" />
<polygon points="147.3,376.6 300.5,314.4 300.5,321.3 147.3,383.5" fill="#ffffff" stroke="#1f1f1f" stroke-width="1.1" stroke-linejoin="round" />
<polygon points="93.6,333.7 246.8,271.5 300.5,314.4 147.3,376.6" fill="#f3f3f3" stroke="#1f1f1f" stroke-width="1.1" stroke-linejoin="round" />
<polyline points="97.51,334.05 246.11,273.72 296.59,314.05" fill="none" stroke="#8a8a8a" stroke-width="0.66" stroke-linejoin="round" stroke-linecap="round" />
<polyline points="96.17,334.6 147.93,374.56 297.68,313.76" fill="none" stroke="#1c1c1c" stroke-width="2.1" stroke-linejoin="round" stroke-linecap="round" />
<clipPath id="c4"><polygon points="126.18,336.65 241.08,290 267.93,311.45 153.03,358.1"/></clipPath>
<polygon points="126.18,336.65 241.08,290 267.93,311.45 153.03,358.1" fill="#e4e4e4" stroke="#1f1f1f" stroke-width="1.1" stroke-linejoin="round" />
<g clip-path="url(#c4)">
<polygon points="126.18,339.62 237.25,294.53 269.46,320.26 158.4,365.36" fill="#f6f6f6" stroke="#1f1f1f" stroke-width="0.88" stroke-linejoin="round" />
</g>
<polygon points="126.18,336.65 241.08,290 267.93,311.45 153.03,358.1" fill="none" stroke="#1f1f1f" stroke-width="1.1" stroke-linejoin="round" />
<polyline points="132.57,318.69 145.33,328.88" fill="none" stroke="#555" stroke-width="0.77" stroke-linejoin="round" stroke-linecap="round" />
<polyline points="172.18,350.32 184.93,360.51" fill="none" stroke="#555" stroke-width="0.77" stroke-linejoin="round" stroke-linecap="round" />
<polyline points="170.87,303.14 183.62,313.32" fill="none" stroke="#555" stroke-width="0.77" stroke-linejoin="round" stroke-linecap="round" />
<polyline points="210.47,334.78 223.23,344.96" fill="none" stroke="#555" stroke-width="0.77" stroke-linejoin="round" stroke-linecap="round" />
<polyline points="209.17,287.59 221.93,297.77" fill="none" stroke="#555" stroke-width="0.77" stroke-linejoin="round" stroke-linecap="round" />
<polyline points="248.78,319.23 261.53,329.41" fill="none" stroke="#555" stroke-width="0.77" stroke-linejoin="round" stroke-linecap="round" />
<polyline points="121.41,354.76 139.6,347.38" fill="none" stroke="#555" stroke-width="0.77" stroke-linejoin="round" stroke-linecap="round" />
<polyline points="254.5,300.72 272.69,293.34" fill="none" stroke="#555" stroke-width="0.77" stroke-linejoin="round" stroke-linecap="round" />
<polygon points="237.28,274.58 237.54,273.74 238.12,272.96 238.99,272.26 240.11,271.69 241.42,271.28 242.86,271.04 244.35,270.98 245.82,271.11 247.19,271.43 248.41,271.91 249.4,272.53 250.11,273.27 250.51,274.08 250.59,274.92 250.59,280.92 250.33,281.76 249.75,282.54 248.88,283.24 247.76,283.81 246.45,284.22 245.02,284.46 243.53,284.52 242.06,284.39 240.68,284.07 239.47,283.59 238.48,282.97 237.76,282.23 237.36,281.42 237.28,280.58" fill="#ececec" stroke="#1f1f1f" stroke-width="1.04" stroke-linejoin="round" />
<polygon points="249.4,272.53 250.11,273.27 250.51,274.08 250.59,274.92 250.33,275.76 249.75,276.54 248.88,277.24 247.76,277.81 246.45,278.22 245.02,278.47 243.53,278.52 242.06,278.39 240.68,278.07 239.47,277.59 238.48,276.97 237.77,276.23 237.36,275.42 237.28,274.58 237.54,273.74 238.12,272.96 238.99,272.26 240.11,271.69 241.42,271.28 242.86,271.03 244.35,270.98 245.82,271.11 247.19,271.43 248.41,271.91" fill="#ffffff" stroke="#1f1f1f" stroke-width="1.04" stroke-linejoin="round" />
<polygon points="246.91,273.54 247.29,273.95 247.51,274.39 247.56,274.84 247.42,275.3 247.1,275.72 246.63,276.1 246.02,276.41 245.31,276.64 244.52,276.77 243.71,276.8 242.91,276.73 242.17,276.56 241.51,276.29 240.97,275.96 240.58,275.55 240.36,275.11 240.32,274.66 240.46,274.2 240.77,273.78 241.25,273.4 241.86,273.09 242.57,272.86 243.35,272.73 244.16,272.7 244.96,272.77 245.71,272.94 246.37,273.21" fill="#ebebeb" stroke="#1f1f1f" stroke-width="0.89" stroke-linejoin="round" />
<polygon points="218.13,282.35 218.39,281.52 218.97,280.73 219.84,280.04 220.96,279.47 222.27,279.05 223.71,278.81 225.2,278.75 226.67,278.89 228.04,279.2 229.26,279.69 230.25,280.31 230.96,281.05 231.37,281.86 231.44,282.7 231.44,288.7 231.18,289.53 230.6,290.32 229.73,291.01 228.61,291.58 227.3,292 225.87,292.24 224.38,292.3 222.91,292.16 221.53,291.85 220.32,291.37 219.33,290.74 218.62,290 218.21,289.19 218.13,288.35" fill="#ececec" stroke="#1f1f1f" stroke-width="1.04" stroke-linejoin="round" />
<polygon points="230.25,280.31 230.96,281.04 231.36,281.85 231.44,282.7 231.18,283.53 230.6,284.32 229.73,285.01 228.61,285.58 227.3,286 225.87,286.24 224.38,286.3 222.91,286.16 221.53,285.85 220.32,285.37 219.33,284.74 218.62,284.01 218.21,283.2 218.13,282.35 218.39,281.52 218.97,280.73 219.84,280.04 220.96,279.47 222.27,279.05 223.71,278.81 225.2,278.75 226.67,278.89 228.04,279.2 229.26,279.68" fill="#ffffff" stroke="#1f1f1f" stroke-width="1.04" stroke-linejoin="round" />
<polygon points="227.76,281.32 228.14,281.72 228.36,282.16 228.41,282.62 228.27,283.07 227.95,283.5 227.48,283.88 226.87,284.19 226.16,284.41 225.37,284.55 224.56,284.58 223.76,284.5 223.02,284.33 222.36,284.07 221.82,283.73 221.43,283.33 221.21,282.89 221.17,282.43 221.31,281.98 221.62,281.55 222.1,281.17 222.71,280.86 223.42,280.64 224.2,280.5 225.01,280.47 225.81,280.55 226.56,280.72 227.22,280.98" fill="#ebebeb" stroke="#1f1f1f" stroke-width="0.89" stroke-linejoin="round" />
<polygon points="250.71,285.3 250.97,284.47 251.55,283.68 252.42,282.99 253.54,282.42 254.85,282 256.28,281.76 257.77,281.7 259.24,281.84 260.62,282.15 261.83,282.63 262.82,283.26 263.54,284 263.94,284.81 264.01,285.65 264.01,291.65 263.76,292.48 263.18,293.27 262.31,293.96 261.19,294.53 259.88,294.95 258.44,295.19 256.95,295.25 255.48,295.11 254.1,294.8 252.89,294.31 251.91,293.69 251.19,292.95 250.78,292.14 250.71,291.3" fill="#ececec" stroke="#1f1f1f" stroke-width="1.04" stroke-linejoin="round" />
<polygon points="262.82,283.26 263.53,283.99 263.94,284.8 264.02,285.65 263.76,286.48 263.18,287.27 262.31,287.96 261.19,288.53 259.88,288.95 258.44,289.19 256.95,289.25 255.48,289.11 254.11,288.8 252.89,288.32 251.9,287.69 251.19,286.96 250.79,286.15 250.71,285.3 250.97,284.47 251.55,283.68 252.42,282.99 253.54,282.42 254.85,282 256.28,281.76 257.77,281.7 259.24,281.84 260.62,282.15 261.83,282.63" fill="#ffffff" stroke="#1f1f1f" stroke-width="1.04" stroke-linejoin="round" />
<polygon points="260.33,284.27 260.72,284.67 260.94,285.11 260.98,285.57 260.84,286.02 260.53,286.45 260.05,286.83 259.44,287.14 258.73,287.36 257.95,287.5 257.14,287.53 256.34,287.45 255.59,287.28 254.93,287.02 254.39,286.68 254.01,286.28 253.79,285.84 253.74,285.38 253.88,284.93 254.2,284.5 254.67,284.12 255.28,283.81 255.99,283.59 256.78,283.45 257.59,283.42 258.39,283.5 259.13,283.67 259.79,283.93" fill="#ebebeb" stroke="#1f1f1f" stroke-width="0.89" stroke-linejoin="round" />
<polygon points="198.99,290.13 199.24,289.29 199.82,288.51 200.69,287.81 201.81,287.24 203.12,286.83 204.56,286.58 206.05,286.53 207.52,286.66 208.9,286.98 210.11,287.46 211.09,288.08 211.81,288.82 212.22,289.63 212.29,290.47 212.29,296.47 212.03,297.31 211.45,298.09 210.58,298.79 209.46,299.36 208.15,299.77 206.72,300.01 205.23,300.07 203.76,299.94 202.38,299.62 201.17,299.14 200.18,298.52 199.47,297.78 199.06,296.97 198.99,296.13" fill="#ececec" stroke="#1f1f1f" stroke-width="1.04" stroke-linejoin="round" />
<polygon points="211.1,288.08 211.81,288.82 212.21,289.63 212.29,290.47 212.03,291.31 211.45,292.09 210.58,292.79 209.46,293.36 208.15,293.77 206.72,294.02 205.23,294.07 203.76,293.94 202.38,293.62 201.17,293.14 200.18,292.52 199.47,291.78 199.06,290.97 198.98,290.13 199.24,289.29 199.82,288.51 200.69,287.81 201.81,287.24 203.12,286.83 204.56,286.58 206.05,286.53 207.52,286.66 208.89,286.98 210.11,287.46" fill="#ffffff" stroke="#1f1f1f" stroke-width="1.04" stroke-linejoin="round" />
<polygon points="208.61,289.09 208.99,289.5 209.21,289.94 209.26,290.39 209.12,290.85 208.8,291.27 208.33,291.65 207.72,291.96 207.01,292.19 206.22,292.32 205.41,292.35 204.61,292.28 203.87,292.11 203.21,291.84 202.67,291.51 202.28,291.1 202.06,290.66 202.02,290.21 202.16,289.75 202.47,289.33 202.95,288.95 203.56,288.64 204.27,288.41 205.05,288.28 205.86,288.25 206.66,288.32 207.41,288.49 208.07,288.76" fill="#ebebeb" stroke="#1f1f1f" stroke-width="0.89" stroke-linejoin="round" />
<polygon points="264.13,296.03 264.39,295.19 264.97,294.41 265.84,293.71 266.96,293.14 268.27,292.73 269.71,292.49 271.2,292.43 272.67,292.56 274.05,292.88 275.26,293.36 276.25,293.98 276.96,294.72 277.37,295.53 277.44,296.37 277.44,302.37 277.18,303.21 276.6,303.99 275.73,304.69 274.61,305.26 273.3,305.67 271.87,305.92 270.38,305.97 268.91,305.84 267.53,305.52 266.32,305.04 265.33,304.42 264.62,303.68 264.21,302.87 264.13,302.03" fill="#ececec" stroke="#1f1f1f" stroke-width="1.04" stroke-linejoin="round" />
<polygon points="276.25,293.98 276.96,294.72 277.36,295.53 277.44,296.37 277.18,297.21 276.6,297.99 275.73,298.69 274.61,299.26 273.3,299.67 271.87,299.92 270.38,299.97 268.91,299.84 267.53,299.52 266.32,299.04 265.33,298.42 264.62,297.68 264.21,296.87 264.13,296.03 264.39,295.19 264.97,294.41 265.84,293.71 266.96,293.14 268.27,292.73 269.71,292.48 271.2,292.43 272.67,292.56 274.04,292.88 275.26,293.36" fill="#ffffff" stroke="#1f1f1f" stroke-width="1.04" stroke-linejoin="round" />
<polygon points="273.76,294.99 274.14,295.4 274.36,295.84 274.41,296.29 274.27,296.75 273.95,297.17 273.48,297.55 272.87,297.86 272.16,298.09 271.37,298.22 270.56,298.25 269.76,298.18 269.02,298.01 268.36,297.74 267.82,297.41 267.43,297 267.21,296.56 267.17,296.11 267.31,295.65 267.62,295.23 268.1,294.85 268.71,294.54 269.42,294.31 270.2,294.18 271.01,294.15 271.81,294.22 272.56,294.39 273.22,294.66" fill="#ebebeb" stroke="#1f1f1f" stroke-width="0.89" stroke-linejoin="round" />
<polygon points="179.84,297.9 180.09,297.07 180.67,296.28 181.54,295.59 182.66,295.02 183.97,294.6 185.41,294.36 186.9,294.3 188.37,294.44 189.75,294.75 190.96,295.24 191.94,295.86 192.66,296.6 193.06,297.4 193.14,298.25 193.14,304.25 192.88,305.08 192.3,305.87 191.43,306.56 190.31,307.13 189,307.55 187.57,307.79 186.08,307.85 184.61,307.71 183.23,307.4 182.02,306.92 181.03,306.29 180.31,305.56 179.91,304.75 179.84,303.9" fill="#ececec" stroke="#1f1f1f" stroke-width="1.04" stroke-linejoin="round" />
<polygon points="191.95,295.86 192.66,296.59 193.06,297.4 193.14,298.25 192.88,299.08 192.3,299.87 191.43,300.56 190.31,301.13 189,301.55 187.57,301.79 186.08,301.85 184.61,301.71 183.23,301.4 182.02,300.92 181.03,300.29 180.32,299.56 179.91,298.75 179.83,297.9 180.09,297.07 180.67,296.28 181.54,295.59 182.66,295.02 183.97,294.6 185.41,294.36 186.9,294.3 188.37,294.44 189.74,294.75 190.96,295.23" fill="#ffffff" stroke="#1f1f1f" stroke-width="1.04" stroke-linejoin="round" />
<polygon points="189.46,296.87 189.84,297.27 190.06,297.71 190.11,298.17 189.97,298.62 189.65,299.05 189.18,299.43 188.57,299.74 187.86,299.96 187.07,300.1 186.26,300.13 185.46,300.05 184.72,299.88 184.06,299.62 183.52,299.28 183.13,298.88 182.91,298.44 182.87,297.98 183.01,297.53 183.32,297.1 183.8,296.72 184.41,296.41 185.12,296.19 185.9,296.05 186.71,296.02 187.51,296.1 188.26,296.27 188.92,296.53" fill="#ebebeb" stroke="#1f1f1f" stroke-width="0.89" stroke-linejoin="round" />
<polygon points="160.69,305.68 160.94,304.84 161.52,304.06 162.39,303.36 163.51,302.79 164.82,302.38 166.26,302.13 167.75,302.08 169.22,302.21 170.59,302.53 171.81,303.01 172.79,303.63 173.51,304.37 173.91,305.18 173.99,306.02 173.99,312.02 173.73,312.86 173.15,313.64 172.28,314.34 171.16,314.91 169.85,315.32 168.42,315.56 166.93,315.62 165.46,315.49 164.08,315.17 162.87,314.69 161.88,314.07 161.16,313.33 160.76,312.52 160.69,311.68" fill="#ececec" stroke="#1f1f1f" stroke-width="1.04" stroke-linejoin="round" />
<polygon points="172.8,303.63 173.51,304.37 173.91,305.18 173.99,306.02 173.73,306.86 173.15,307.64 172.28,308.34 171.16,308.91 169.85,309.32 168.42,309.57 166.93,309.62 165.46,309.49 164.08,309.17 162.87,308.69 161.88,308.07 161.17,307.33 160.76,306.52 160.68,305.68 160.94,304.84 161.52,304.06 162.39,303.36 163.51,302.79 164.82,302.38 166.26,302.13 167.75,302.08 169.22,302.21 170.59,302.53 171.81,303.01" fill="#ffffff" stroke="#1f1f1f" stroke-width="1.04" stroke-linejoin="round" />
<polygon points="170.31,304.64 170.69,305.05 170.91,305.49 170.96,305.94 170.82,306.4 170.5,306.82 170.03,307.2 169.42,307.51 168.71,307.74 167.92,307.87 167.11,307.9 166.31,307.83 165.57,307.66 164.91,307.39 164.37,307.06 163.98,306.65 163.76,306.21 163.72,305.76 163.86,305.3 164.17,304.88 164.65,304.5 165.26,304.19 165.97,303.96 166.75,303.83 167.56,303.8 168.36,303.87 169.11,304.04 169.77,304.31" fill="#ebebeb" stroke="#1f1f1f" stroke-width="0.89" stroke-linejoin="round" />
<polygon points="277.56,306.75 277.82,305.92 278.4,305.13 279.27,304.44 280.39,303.87 281.7,303.45 283.13,303.21 284.62,303.15 286.09,303.29 287.47,303.6 288.68,304.08 289.67,304.71 290.38,305.44 290.79,306.25 290.87,307.1 290.87,313.1 290.61,313.93 290.03,314.72 289.16,315.41 288.04,315.98 286.73,316.4 285.29,316.64 283.8,316.7 282.33,316.56 280.95,316.25 279.74,315.76 278.75,315.14 278.04,314.4 277.63,313.6 277.56,312.75" fill="#ececec" stroke="#1f1f1f" stroke-width="1.04" stroke-linejoin="round" />
<polygon points="289.67,304.71 290.38,305.44 290.79,306.25 290.87,307.1 290.61,307.93 290.03,308.72 289.16,309.41 288.04,309.98 286.73,310.4 285.29,310.64 283.8,310.7 282.33,310.56 280.96,310.25 279.74,309.77 278.75,309.14 278.04,308.41 277.64,307.6 277.56,306.75 277.82,305.92 278.4,305.13 279.27,304.44 280.39,303.87 281.7,303.45 283.13,303.21 284.62,303.15 286.09,303.29 287.47,303.6 288.68,304.08" fill="#ffffff" stroke="#1f1f1f" stroke-width="1.04" stroke-linejoin="round" />
<polygon points="287.18,305.72 287.57,306.12 287.79,306.56 287.83,307.02 287.69,307.47 287.38,307.9 286.9,308.28 286.29,308.59 285.58,308.81 284.8,308.95 283.99,308.98 283.19,308.9 282.44,308.73 281.78,308.47 281.24,308.13 280.86,307.73 280.64,307.29 280.59,306.83 280.73,306.38 281.05,305.95 281.52,305.57 282.13,305.26 282.84,305.04 283.63,304.9 284.44,304.87 285.24,304.95 285.98,305.12 286.64,305.38" fill="#ebebeb" stroke="#1f1f1f" stroke-width="0.89" stroke-linejoin="round" />
<polygon points="141.53,313.45 141.79,312.62 142.37,311.83 143.24,311.14 144.36,310.57 145.67,310.15 147.11,309.91 148.6,309.85 150.07,309.99 151.44,310.3 152.66,310.79 153.65,311.41 154.36,312.14 154.76,312.95 154.84,313.8 154.84,319.8 154.58,320.63 154,321.42 153.13,322.11 152.01,322.68 150.7,323.1 149.27,323.34 147.78,323.4 146.31,323.26 144.93,322.95 143.72,322.46 142.73,321.84 142.01,321.11 141.61,320.3 141.53,319.45" fill="#ececec" stroke="#1f1f1f" stroke-width="1.04" stroke-linejoin="round" />
<polygon points="153.65,311.41 154.36,312.14 154.76,312.95 154.84,313.8 154.58,314.63 154,315.42 153.13,316.11 152.01,316.68 150.7,317.1 149.27,317.34 147.78,317.4 146.31,317.26 144.93,316.95 143.72,316.47 142.73,315.84 142.02,315.11 141.61,314.3 141.53,313.45 141.79,312.62 142.37,311.83 143.24,311.14 144.36,310.57 145.67,310.15 147.11,309.91 148.6,309.85 150.07,309.99 151.44,310.3 152.66,310.78" fill="#ffffff" stroke="#1f1f1f" stroke-width="1.04" stroke-linejoin="round" />
<polygon points="151.16,312.42 151.54,312.82 151.76,313.26 151.81,313.72 151.67,314.17 151.35,314.6 150.88,314.98 150.27,315.29 149.56,315.51 148.77,315.65 147.96,315.68 147.16,315.6 146.42,315.43 145.76,315.17 145.22,314.83 144.83,314.43 144.61,313.99 144.57,313.53 144.71,313.08 145.02,312.65 145.5,312.27 146.11,311.96 146.82,311.74 147.6,311.6 148.41,311.57 149.21,311.65 149.96,311.82 150.62,312.08" fill="#ebebeb" stroke="#1f1f1f" stroke-width="0.89" stroke-linejoin="round" />
<polygon points="258.41,314.53 258.67,313.69 259.25,312.91 260.12,312.21 261.24,311.64 262.55,311.23 263.98,310.99 265.47,310.93 266.94,311.06 268.32,311.38 269.53,311.86 270.52,312.48 271.24,313.22 271.64,314.03 271.71,314.87 271.71,320.87 271.46,321.71 270.88,322.49 270.01,323.19 268.89,323.76 267.58,324.17 266.14,324.42 264.65,324.47 263.18,324.34 261.81,324.02 260.59,323.54 259.61,322.92 258.89,322.18 258.49,321.37 258.41,320.53" fill="#ececec" stroke="#1f1f1f" stroke-width="1.04" stroke-linejoin="round" />
<polygon points="270.52,312.48 271.23,313.22 271.64,314.03 271.72,314.87 271.46,315.71 270.88,316.49 270.01,317.19 268.89,317.76 267.58,318.17 266.14,318.42 264.65,318.47 263.18,318.34 261.81,318.02 260.59,317.54 259.6,316.92 258.89,316.18 258.49,315.37 258.41,314.53 258.67,313.69 259.25,312.91 260.12,312.21 261.24,311.64 262.55,311.23 263.98,310.98 265.47,310.93 266.94,311.06 268.32,311.38 269.53,311.86" fill="#ffffff" stroke="#1f1f1f" stroke-width="1.04" stroke-linejoin="round" />
<polygon points="268.03,313.49 268.42,313.9 268.64,314.34 268.68,314.79 268.54,315.25 268.23,315.67 267.75,316.05 267.14,316.36 266.43,316.59 265.65,316.72 264.84,316.75 264.04,316.68 263.29,316.51 262.63,316.24 262.09,315.91 261.71,315.5 261.49,315.06 261.44,314.61 261.58,314.15 261.9,313.73 262.37,313.35 262.98,313.04 263.69,312.81 264.48,312.68 265.29,312.65 266.09,312.72 266.83,312.89 267.49,313.16" fill="#ebebeb" stroke="#1f1f1f" stroke-width="0.89" stroke-linejoin="round" />
<polygon points="122.39,321.23 122.64,320.39 123.22,319.61 124.09,318.91 125.21,318.34 126.52,317.93 127.96,317.69 129.45,317.63 130.92,317.76 132.29,318.08 133.51,318.56 134.5,319.18 135.21,319.92 135.62,320.73 135.69,321.57 135.69,327.57 135.43,328.41 134.85,329.19 133.98,329.89 132.86,330.46 131.55,330.87 130.12,331.12 128.63,331.17 127.16,331.04 125.78,330.72 124.57,330.24 123.58,329.62 122.86,328.88 122.46,328.07 122.39,327.23" fill="#ececec" stroke="#1f1f1f" stroke-width="1.04" stroke-linejoin="round" />
<polygon points="134.5,319.18 135.21,319.92 135.61,320.73 135.69,321.57 135.43,322.41 134.85,323.19 133.98,323.89 132.86,324.46 131.55,324.87 130.12,325.12 128.63,325.17 127.16,325.04 125.78,324.72 124.57,324.24 123.58,323.62 122.87,322.88 122.46,322.07 122.38,321.23 122.64,320.39 123.22,319.61 124.09,318.91 125.21,318.34 126.52,317.93 127.96,317.68 129.45,317.63 130.92,317.76 132.29,318.08 133.51,318.56" fill="#ffffff" stroke="#1f1f1f" stroke-width="1.04" stroke-linejoin="round" />
<polygon points="132.01,320.19 132.39,320.6 132.61,321.04 132.66,321.49 132.52,321.95 132.2,322.37 131.73,322.75 131.12,323.06 130.41,323.29 129.62,323.42 128.81,323.45 128.01,323.38 127.27,323.21 126.61,322.94 126.07,322.61 125.68,322.2 125.46,321.76 125.42,321.31 125.56,320.85 125.87,320.43 126.35,320.05 126.96,319.74 127.67,319.51 128.45,319.38 129.26,319.35 130.06,319.42 130.81,319.59 131.47,319.86" fill="#ebebeb" stroke="#1f1f1f" stroke-width="0.89" stroke-linejoin="round" />
<polygon points="239.26,322.3 239.52,321.47 240.1,320.68 240.97,319.99 242.09,319.42 243.4,319 244.83,318.76 246.32,318.7 247.79,318.84 249.17,319.15 250.38,319.63 251.37,320.26 252.09,321 252.49,321.81 252.56,322.65 252.56,328.65 252.31,329.48 251.73,330.27 250.86,330.96 249.74,331.53 248.43,331.95 246.99,332.19 245.5,332.25 244.03,332.11 242.66,331.8 241.44,331.31 240.46,330.69 239.74,329.95 239.34,329.14 239.26,328.3" fill="#ececec" stroke="#1f1f1f" stroke-width="1.04" stroke-linejoin="round" />
<polygon points="251.37,320.26 252.08,320.99 252.49,321.8 252.57,322.65 252.31,323.48 251.73,324.27 250.86,324.96 249.74,325.53 248.43,325.95 246.99,326.19 245.5,326.25 244.03,326.11 242.66,325.8 241.44,325.32 240.45,324.69 239.74,323.96 239.34,323.15 239.26,322.3 239.52,321.47 240.1,320.68 240.97,319.99 242.09,319.42 243.4,319 244.83,318.76 246.32,318.7 247.79,318.84 249.17,319.15 250.38,319.63" fill="#ffffff" stroke="#1f1f1f" stroke-width="1.04" stroke-linejoin="round" />
<polygon points="248.88,321.27 249.27,321.67 249.49,322.11 249.53,322.57 249.39,323.02 249.08,323.45 248.6,323.83 247.99,324.14 247.28,324.36 246.5,324.5 245.69,324.53 244.89,324.45 244.14,324.28 243.48,324.02 242.94,323.68 242.56,323.28 242.34,322.84 242.29,322.38 242.43,321.93 242.75,321.5 243.22,321.12 243.83,320.81 244.54,320.59 245.33,320.45 246.14,320.42 246.94,320.5 247.68,320.67 248.34,320.93" fill="#ebebeb" stroke="#1f1f1f" stroke-width="0.89" stroke-linejoin="round" />
<polygon points="103.23,329 103.49,328.17 104.07,327.38 104.94,326.69 106.06,326.12 107.37,325.7 108.81,325.46 110.3,325.4 111.77,325.54 113.14,325.85 114.36,326.33 115.34,326.96 116.06,327.69 116.47,328.5 116.54,329.35 116.54,335.35 116.28,336.18 115.7,336.97 114.83,337.66 113.71,338.23 112.4,338.65 110.97,338.89 109.48,338.95 108.01,338.81 106.63,338.5 105.42,338.01 104.43,337.39 103.72,336.65 103.31,335.85 103.23,335" fill="#ececec" stroke="#1f1f1f" stroke-width="1.04" stroke-linejoin="round" />
<polygon points="115.35,326.96 116.06,327.69 116.46,328.5 116.54,329.35 116.28,330.18 115.7,330.97 114.83,331.66 113.71,332.23 112.4,332.65 110.97,332.89 109.48,332.95 108.01,332.81 106.63,332.5 105.42,332.02 104.43,331.39 103.72,330.66 103.31,329.85 103.23,329 103.49,328.17 104.07,327.38 104.94,326.69 106.06,326.12 107.37,325.7 108.81,325.46 110.3,325.4 111.77,325.54 113.14,325.85 114.36,326.33" fill="#ffffff" stroke="#1f1f1f" stroke-width="1.04" stroke-linejoin="round" />
<polygon points="112.86,327.97 113.24,328.37 113.46,328.81 113.51,329.27 113.37,329.72 113.05,330.15 112.58,330.53 111.97,330.84 111.26,331.06 110.47,331.2 109.66,331.23 108.86,331.15 108.12,330.98 107.46,330.72 106.92,330.38 106.53,329.98 106.31,329.54 106.27,329.08 106.41,328.63 106.72,328.2 107.2,327.82 107.81,327.51 108.52,327.29 109.3,327.15 110.11,327.12 110.91,327.2 111.66,327.37 112.32,327.63" fill="#ebebeb" stroke="#1f1f1f" stroke-width="0.89" stroke-linejoin="round" />
<polygon points="220.11,330.08 220.37,329.24 220.95,328.46 221.82,327.76 222.94,327.19 224.25,326.78 225.68,326.54 227.17,326.48 228.64,326.61 230.02,326.93 231.23,327.41 232.22,328.03 232.94,328.77 233.34,329.58 233.41,330.42 233.41,336.42 233.16,337.26 232.58,338.04 231.71,338.74 230.59,339.31 229.28,339.72 227.84,339.96 226.35,340.02 224.88,339.89 223.5,339.57 222.29,339.09 221.31,338.47 220.59,337.73 220.19,336.92 220.11,336.08" fill="#ececec" stroke="#1f1f1f" stroke-width="1.04" stroke-linejoin="round" />
<polygon points="232.22,328.03 232.93,328.77 233.34,329.58 233.42,330.42 233.16,331.26 232.58,332.04 231.71,332.74 230.59,333.31 229.28,333.72 227.84,333.97 226.35,334.02 224.88,333.89 223.51,333.57 222.29,333.09 221.3,332.47 220.59,331.73 220.19,330.92 220.11,330.08 220.37,329.24 220.95,328.46 221.82,327.76 222.94,327.19 224.25,326.78 225.68,326.53 227.17,326.48 228.64,326.61 230.02,326.93 231.23,327.41" fill="#ffffff" stroke="#1f1f1f" stroke-width="1.04" stroke-linejoin="round" />
<polygon points="229.73,329.04 230.12,329.45 230.34,329.89 230.38,330.34 230.24,330.8 229.93,331.22 229.45,331.6 228.84,331.91 228.13,332.14 227.35,332.27 226.54,332.3 225.74,332.23 224.99,332.06 224.33,331.79 223.79,331.46 223.41,331.05 223.19,330.61 223.14,330.16 223.28,329.7 223.6,329.28 224.07,328.9 224.68,328.59 225.39,328.36 226.18,328.23 226.99,328.2 227.79,328.27 228.53,328.44 229.19,328.71" fill="#ebebeb" stroke="#1f1f1f" stroke-width="0.89" stroke-linejoin="round" />
<polygon points="200.96,337.85 201.22,337.02 201.8,336.23 202.67,335.54 203.79,334.97 205.1,334.55 206.53,334.31 208.02,334.25 209.49,334.39 210.87,334.7 212.08,335.19 213.07,335.81 213.78,336.55 214.19,337.36 214.26,338.2 214.26,344.2 214.01,345.03 213.43,345.82 212.56,346.51 211.44,347.08 210.13,347.5 208.69,347.74 207.2,347.8 205.73,347.66 204.35,347.35 203.14,346.87 202.16,346.24 201.44,345.5 201.03,344.69 200.96,343.85" fill="#ececec" stroke="#1f1f1f" stroke-width="1.04" stroke-linejoin="round" />
<polygon points="213.07,335.81 213.78,336.54 214.19,337.35 214.27,338.2 214.01,339.03 213.43,339.82 212.56,340.51 211.44,341.08 210.13,341.5 208.69,341.74 207.2,341.8 205.73,341.66 204.36,341.35 203.14,340.87 202.15,340.24 201.44,339.51 201.04,338.7 200.96,337.85 201.22,337.02 201.8,336.23 202.67,335.54 203.79,334.97 205.1,334.55 206.53,334.31 208.02,334.25 209.49,334.39 210.87,334.7 212.08,335.18" fill="#ffffff" stroke="#1f1f1f" stroke-width="1.04" stroke-linejoin="round" />
<polygon points="210.58,336.82 210.97,337.22 211.19,337.66 211.23,338.12 211.09,338.57 210.78,339 210.3,339.38 209.69,339.69 208.98,339.91 208.2,340.05 207.39,340.08 206.59,340 205.84,339.83 205.18,339.57 204.64,339.23 204.26,338.83 204.04,338.39 203.99,337.93 204.13,337.48 204.45,337.05 204.92,336.67 205.53,336.36 206.24,336.14 207.03,336 207.84,335.97 208.64,336.05 209.38,336.22 210.04,336.48" fill="#ebebeb" stroke="#1f1f1f" stroke-width="0.89" stroke-linejoin="round" />
<polygon points="116.66,339.73 116.92,338.89 117.5,338.11 118.37,337.41 119.49,336.84 120.8,336.43 122.23,336.19 123.72,336.13 125.19,336.26 126.57,336.58 127.78,337.06 128.77,337.68 129.49,338.42 129.89,339.23 129.97,340.07 129.97,346.07 129.71,346.91 129.13,347.69 128.26,348.39 127.14,348.96 125.83,349.37 124.39,349.62 122.9,349.67 121.43,349.54 120.06,349.22 118.84,348.74 117.86,348.12 117.14,347.38 116.73,346.57 116.66,345.73" fill="#ececec" stroke="#1f1f1f" stroke-width="1.04" stroke-linejoin="round" />
<polygon points="128.77,337.68 129.48,338.42 129.89,339.23 129.97,340.07 129.71,340.91 129.13,341.69 128.26,342.39 127.14,342.96 125.83,343.37 124.39,343.62 122.9,343.67 121.43,343.54 120.06,343.22 118.84,342.74 117.85,342.12 117.14,341.38 116.74,340.57 116.66,339.73 116.92,338.89 117.5,338.11 118.37,337.41 119.49,336.84 120.8,336.43 122.23,336.18 123.72,336.13 125.19,336.26 126.57,336.58 127.78,337.06" fill="#ffffff" stroke="#1f1f1f" stroke-width="1.04" stroke-linejoin="round" />
<polygon points="126.28,338.69 126.67,339.1 126.89,339.54 126.93,339.99 126.79,340.45 126.48,340.87 126,341.25 125.39,341.56 124.68,341.79 123.9,341.92 123.09,341.95 122.29,341.88 121.54,341.71 120.88,341.44 120.34,341.11 119.96,340.7 119.74,340.26 119.69,339.81 119.83,339.35 120.15,338.93 120.62,338.55 121.23,338.24 121.94,338.01 122.73,337.88 123.54,337.85 124.34,337.92 125.08,338.09 125.74,338.36" fill="#ebebeb" stroke="#1f1f1f" stroke-width="0.89" stroke-linejoin="round" />
<polygon points="181.81,345.63 182.07,344.79 182.65,344.01 183.52,343.31 184.64,342.74 185.95,342.33 187.38,342.08 188.87,342.03 190.34,342.16 191.72,342.48 192.93,342.96 193.92,343.58 194.63,344.32 195.04,345.13 195.12,345.97 195.12,351.97 194.86,352.81 194.28,353.59 193.41,354.29 192.29,354.86 190.98,355.27 189.54,355.51 188.05,355.57 186.58,355.44 185.21,355.12 183.99,354.64 183,354.02 182.29,353.28 181.88,352.47 181.81,351.63" fill="#ececec" stroke="#1f1f1f" stroke-width="1.04" stroke-linejoin="round" />
<polygon points="193.92,343.58 194.63,344.32 195.04,345.13 195.12,345.97 194.86,346.81 194.28,347.59 193.41,348.29 192.29,348.86 190.98,349.27 189.54,349.52 188.05,349.57 186.58,349.44 185.21,349.12 183.99,348.64 183,348.02 182.29,347.28 181.89,346.47 181.81,345.63 182.07,344.79 182.65,344.01 183.52,343.31 184.64,342.74 185.95,342.33 187.38,342.08 188.87,342.03 190.34,342.16 191.72,342.48 192.93,342.96" fill="#ffffff" stroke="#1f1f1f" stroke-width="1.04" stroke-linejoin="round" />
<polygon points="191.43,344.59 191.82,345 192.04,345.44 192.08,345.89 191.94,346.35 191.63,346.77 191.15,347.15 190.54,347.46 189.83,347.69 189.05,347.82 188.24,347.85 187.44,347.78 186.69,347.61 186.03,347.34 185.49,347.01 185.11,346.6 184.89,346.16 184.84,345.71 184.98,345.25 185.3,344.83 185.77,344.45 186.38,344.14 187.09,343.91 187.88,343.78 188.69,343.75 189.49,343.82 190.23,343.99 190.89,344.26" fill="#ebebeb" stroke="#1f1f1f" stroke-width="0.89" stroke-linejoin="round" />
<polygon points="130.09,350.45 130.34,349.62 130.92,348.83 131.79,348.14 132.91,347.57 134.22,347.15 135.66,346.91 137.15,346.85 138.62,346.99 140,347.3 141.21,347.79 142.19,348.41 142.91,349.14 143.31,349.95 143.39,350.8 143.39,356.8 143.13,357.63 142.55,358.42 141.68,359.11 140.56,359.68 139.25,360.1 137.82,360.34 136.33,360.4 134.86,360.26 133.48,359.95 132.27,359.46 131.28,358.84 130.56,358.11 130.16,357.3 130.09,356.45" fill="#ececec" stroke="#1f1f1f" stroke-width="1.04" stroke-linejoin="round" />
<polygon points="142.2,348.41 142.91,349.14 143.31,349.95 143.39,350.8 143.13,351.63 142.55,352.42 141.68,353.11 140.56,353.68 139.25,354.1 137.82,354.34 136.33,354.4 134.86,354.26 133.48,353.95 132.27,353.47 131.28,352.84 130.57,352.11 130.16,351.3 130.08,350.45 130.34,349.62 130.92,348.83 131.79,348.14 132.91,347.57 134.22,347.15 135.66,346.91 137.15,346.85 138.62,346.99 139.99,347.3 141.21,347.78" fill="#ffffff" stroke="#1f1f1f" stroke-width="1.04" stroke-linejoin="round" />
<polygon points="139.71,349.42 140.09,349.82 140.31,350.26 140.36,350.72 140.22,351.17 139.9,351.6 139.43,351.98 138.82,352.29 138.11,352.51 137.32,352.65 136.51,352.68 135.71,352.6 134.97,352.43 134.31,352.17 133.77,351.83 133.38,351.43 133.16,350.99 133.12,350.53 133.26,350.08 133.57,349.65 134.05,349.27 134.66,348.96 135.37,348.74 136.15,348.6 136.96,348.57 137.76,348.65 138.51,348.82 139.17,349.08" fill="#ebebeb" stroke="#1f1f1f" stroke-width="0.89" stroke-linejoin="round" />
<polygon points="162.66,353.4 162.92,352.57 163.5,351.78 164.37,351.09 165.49,350.52 166.8,350.1 168.23,349.86 169.72,349.8 171.19,349.94 172.57,350.25 173.78,350.74 174.77,351.36 175.49,352.1 175.89,352.9 175.97,353.75 175.97,359.75 175.71,360.58 175.13,361.37 174.26,362.06 173.14,362.63 171.83,363.05 170.39,363.29 168.9,363.35 167.43,363.21 166.06,362.9 164.84,362.42 163.85,361.79 163.14,361.06 162.74,360.25 162.66,359.4" fill="#ececec" stroke="#1f1f1f" stroke-width="1.04" stroke-linejoin="round" />
<polygon points="174.77,351.36 175.48,352.09 175.89,352.9 175.97,353.75 175.71,354.58 175.13,355.37 174.26,356.06 173.14,356.63 171.83,357.05 170.39,357.29 168.9,357.35 167.43,357.21 166.06,356.9 164.84,356.42 163.85,355.79 163.14,355.06 162.74,354.25 162.66,353.4 162.92,352.57 163.5,351.78 164.37,351.09 165.49,350.52 166.8,350.1 168.23,349.86 169.72,349.8 171.19,349.94 172.57,350.25 173.78,350.73" fill="#ffffff" stroke="#1f1f1f" stroke-width="1.04" stroke-linejoin="round" />
<polygon points="172.28,352.37 172.67,352.77 172.89,353.21 172.93,353.67 172.79,354.12 172.48,354.55 172,354.93 171.39,355.24 170.68,355.46 169.9,355.6 169.09,355.63 168.29,355.55 167.54,355.38 166.88,355.12 166.34,354.78 165.96,354.38 165.74,353.94 165.69,353.48 165.83,353.03 166.15,352.6 166.62,352.22 167.23,351.91 167.94,351.69 168.73,351.55 169.54,351.52 170.34,351.6 171.08,351.77 171.74,352.03" fill="#ebebeb" stroke="#1f1f1f" stroke-width="0.89" stroke-linejoin="round" />
<polygon points="143.51,361.18 143.77,360.34 144.35,359.56 145.22,358.86 146.34,358.29 147.65,357.88 149.08,357.63 150.57,357.58 152.04,357.71 153.42,358.03 154.63,358.51 155.62,359.13 156.34,359.87 156.74,360.68 156.81,361.52 156.81,367.52 156.56,368.36 155.98,369.14 155.11,369.84 153.99,370.41 152.68,370.82 151.24,371.06 149.75,371.12 148.28,370.99 146.91,370.67 145.69,370.19 144.71,369.57 143.99,368.83 143.59,368.02 143.51,367.18" fill="#ececec" stroke="#1f1f1f" stroke-width="1.04" stroke-linejoin="round" />
<polygon points="155.62,359.13 156.33,359.87 156.74,360.68 156.82,361.52 156.56,362.36 155.98,363.14 155.11,363.84 153.99,364.41 152.68,364.82 151.24,365.07 149.75,365.12 148.28,364.99 146.91,364.67 145.69,364.19 144.7,363.57 143.99,362.83 143.59,362.02 143.51,361.18 143.77,360.34 144.35,359.56 145.22,358.86 146.34,358.29 147.65,357.88 149.08,357.63 150.57,357.58 152.04,357.71 153.42,358.03 154.63,358.51" fill="#ffffff" stroke="#1f1f1f" stroke-width="1.04" stroke-linejoin="round" />
<polygon points="153.13,360.14 153.52,360.55 153.74,360.99 153.78,361.44 153.64,361.9 153.33,362.32 152.85,362.7 152.24,363.01 151.53,363.24 150.75,363.37 149.94,363.4 149.14,363.33 148.39,363.16 147.73,362.89 147.19,362.56 146.81,362.15 146.59,361.71 146.54,361.26 146.68,360.8 147,360.38 147.47,360 148.08,359.69 148.79,359.46 149.58,359.33 150.39,359.3 151.19,359.37 151.93,359.54 152.59,359.81" fill="#ebebeb" stroke="#1f1f1f" stroke-width="0.89" stroke-linejoin="round" />
<polygon points="93.3,573.5 147,616.4 147,623.3 93.3,580.4" fill="#f1f1f1" stroke="#1f1f1f" stroke-width="1.1" stroke-linejoin="round" />
<polygon points="147,616.4 300.2,554.2 300.2,561.1 147,623.3" fill="#ffffff" stroke="#1f1f1f" stroke-width="1.1" stroke-linejoin="round" />
<polygon points="93.3,573.5 246.5,511.3 300.2,554.2 147,616.4" fill="#f3f3f3" stroke="#1f1f1f" stroke-width="1.1" stroke-linejoin="round" />
<polyline points="97.21,573.85 245.81,513.52 296.29,553.85" fill="none" stroke="#8a8a8a" stroke-width="0.66" stroke-linejoin="round" stroke-linecap="round" />
<polyline points="95.87,574.4 147.63,614.37 297.38,553.56" fill="none" stroke="#1c1c1c" stroke-width="2.1" stroke-linejoin="round" stroke-linecap="round" />
<clipPath id="c5"><polygon points="125.88,576.45 240.77,529.8 267.62,551.25 152.72,597.9"/></clipPath>
<polygon points="125.88,576.45 240.77,529.8 267.62,551.25 152.72,597.9" fill="#e4e4e4" stroke="#1f1f1f" stroke-width="1.1" stroke-linejoin="round" />
<g clip-path="url(#c5)">
<polygon points="125.88,579.42 236.94,534.33 269.16,560.07 158.09,605.16" fill="#f6f6f6" stroke="#1f1f1f" stroke-width="0.88" stroke-linejoin="round" />
</g>
<polygon points="125.88,576.45 240.77,529.8 267.62,551.25 152.72,597.9" fill="none" stroke="#1f1f1f" stroke-width="1.1" stroke-linejoin="round" />
<polyline points="132.27,558.49 145.02,568.68" fill="none" stroke="#555" stroke-width="0.77" stroke-linejoin="round" stroke-linecap="round" />
<polyline points="171.88,590.12 184.63,600.31" fill="none" stroke="#555" stroke-width="0.77" stroke-linejoin="round" stroke-linecap="round" />
<polyline points="170.57,542.94 183.33,553.12" fill="none" stroke="#555" stroke-width="0.77" stroke-linejoin="round" stroke-linecap="round" />
<polyline points="210.17,574.58 222.93,584.76" fill="none" stroke="#555" stroke-width="0.77" stroke-linejoin="round" stroke-linecap="round" />
<polyline points="208.87,527.39 221.62,537.58" fill="none" stroke="#555" stroke-width="0.77" stroke-linejoin="round" stroke-linecap="round" />
<polyline points="248.47,559.03 261.23,569.21" fill="none" stroke="#555" stroke-width="0.77" stroke-linejoin="round" stroke-linecap="round" />
<polyline points="121.11,594.56 139.3,587.18" fill="none" stroke="#555" stroke-width="0.77" stroke-linejoin="round" stroke-linecap="round" />
<polyline points="254.2,540.53 272.39,533.14" fill="none" stroke="#555" stroke-width="0.77" stroke-linejoin="round" stroke-linecap="round" />
<polygon points="179.53,537.7 179.79,536.87 180.37,536.08 181.24,535.39 182.36,534.82 183.67,534.4 185.11,534.16 186.6,534.1 188.07,534.24 189.44,534.55 190.66,535.03 191.65,535.66 192.36,536.39 192.76,537.21 192.84,538.05 192.84,544.05 192.58,544.88 192,545.67 191.13,546.36 190.01,546.93 188.7,547.35 187.27,547.59 185.78,547.65 184.31,547.51 182.93,547.2 181.72,546.72 180.73,546.09 180.01,545.36 179.61,544.54 179.53,543.7" fill="#ececec" stroke="#1f1f1f" stroke-width="1.05" stroke-linejoin="round" />
<polygon points="191.65,535.66 192.36,536.39 192.76,537.2 192.84,538.05 192.58,538.88 192,539.67 191.13,540.36 190.01,540.93 188.7,541.35 187.27,541.59 185.78,541.65 184.31,541.51 182.93,541.2 181.72,540.72 180.73,540.09 180.02,539.36 179.61,538.55 179.53,537.7 179.79,536.87 180.37,536.08 181.24,535.39 182.36,534.82 183.67,534.4 185.11,534.16 186.6,534.1 188.07,534.24 189.44,534.55 190.66,535.03" fill="#ffffff" stroke="#1f1f1f" stroke-width="1.05" stroke-linejoin="round" />
<polygon points="189.16,536.67 189.54,537.07 189.76,537.51 189.81,537.97 189.67,538.42 189.35,538.85 188.88,539.23 188.27,539.54 187.56,539.76 186.77,539.9 185.96,539.93 185.16,539.85 184.42,539.68 183.76,539.42 183.22,539.08 182.83,538.68 182.61,538.24 182.57,537.78 182.71,537.33 183.02,536.9 183.5,536.52 184.11,536.21 184.82,535.99 185.6,535.85 186.41,535.82 187.21,535.9 187.96,536.07 188.62,536.33" fill="#ebebeb" stroke="#1f1f1f" stroke-width="0.89" stroke-linejoin="round" />
<polygon points="160.38,545.48 160.64,544.64 161.22,543.86 162.09,543.16 163.21,542.59 164.52,542.18 165.96,541.93 167.45,541.88 168.92,542.01 170.29,542.33 171.51,542.81 172.5,543.43 173.21,544.17 173.62,544.98 173.69,545.82 173.69,551.82 173.43,552.66 172.85,553.44 171.98,554.14 170.86,554.71 169.55,555.12 168.12,555.37 166.63,555.42 165.16,555.29 163.78,554.97 162.57,554.49 161.58,553.87 160.87,553.13 160.46,552.32 160.38,551.48" fill="#ececec" stroke="#1f1f1f" stroke-width="1.05" stroke-linejoin="round" />
<polygon points="172.5,543.43 173.21,544.17 173.61,544.98 173.69,545.82 173.43,546.66 172.85,547.44 171.98,548.14 170.86,548.71 169.55,549.12 168.12,549.37 166.63,549.42 165.16,549.29 163.78,548.97 162.57,548.49 161.58,547.87 160.87,547.13 160.46,546.32 160.38,545.48 160.64,544.64 161.22,543.86 162.09,543.16 163.21,542.59 164.52,542.18 165.96,541.93 167.45,541.88 168.92,542.01 170.29,542.33 171.51,542.81" fill="#ffffff" stroke="#1f1f1f" stroke-width="1.05" stroke-linejoin="round" />
<polygon points="170.01,544.44 170.39,544.85 170.61,545.29 170.66,545.74 170.52,546.2 170.2,546.62 169.73,547 169.12,547.31 168.41,547.54 167.62,547.67 166.81,547.7 166.01,547.63 165.27,547.46 164.61,547.19 164.07,546.86 163.68,546.45 163.46,546.01 163.42,545.56 163.56,545.1 163.87,544.68 164.35,544.3 164.96,543.99 165.67,543.76 166.45,543.63 167.26,543.6 168.06,543.67 168.81,543.84 169.47,544.11" fill="#ebebeb" stroke="#1f1f1f" stroke-width="0.89" stroke-linejoin="round" />
<polygon points="277.26,546.55 277.52,545.72 278.1,544.93 278.97,544.24 280.09,543.67 281.4,543.25 282.83,543.01 284.32,542.95 285.79,543.09 287.17,543.4 288.38,543.88 289.37,544.51 290.08,545.25 290.49,546.05 290.56,546.9 290.56,552.9 290.31,553.73 289.73,554.52 288.86,555.21 287.74,555.78 286.43,556.2 284.99,556.44 283.5,556.5 282.03,556.36 280.65,556.05 279.44,555.57 278.45,554.94 277.74,554.21 277.33,553.39 277.26,552.55" fill="#ececec" stroke="#1f1f1f" stroke-width="1.05" stroke-linejoin="round" />
<polygon points="289.37,544.51 290.08,545.24 290.49,546.05 290.57,546.9 290.31,547.73 289.73,548.52 288.86,549.21 287.74,549.78 286.43,550.2 284.99,550.44 283.5,550.5 282.03,550.36 280.66,550.05 279.44,549.57 278.45,548.94 277.74,548.21 277.34,547.4 277.26,546.55 277.52,545.72 278.1,544.93 278.97,544.24 280.09,543.67 281.4,543.25 282.83,543.01 284.32,542.95 285.79,543.09 287.17,543.4 288.38,543.88" fill="#ffffff" stroke="#1f1f1f" stroke-width="1.05" stroke-linejoin="round" />
<polygon points="286.88,545.52 287.27,545.92 287.49,546.36 287.53,546.82 287.39,547.27 287.08,547.7 286.6,548.08 285.99,548.39 285.28,548.61 284.5,548.75 283.69,548.78 282.89,548.7 282.14,548.53 281.48,548.27 280.94,547.93 280.56,547.53 280.34,547.09 280.29,546.63 280.43,546.18 280.75,545.75 281.22,545.37 281.83,545.06 282.54,544.84 283.33,544.7 284.14,544.67 284.94,544.75 285.68,544.92 286.34,545.18" fill="#ebebeb" stroke="#1f1f1f" stroke-width="0.89" stroke-linejoin="round" />
<polygon points="141.24,553.25 141.49,552.42 142.07,551.63 142.94,550.94 144.06,550.37 145.37,549.95 146.81,549.71 148.3,549.65 149.77,549.79 151.15,550.1 152.36,550.59 153.34,551.21 154.06,551.95 154.47,552.75 154.54,553.6 154.54,559.6 154.28,560.43 153.7,561.22 152.83,561.91 151.71,562.48 150.4,562.9 148.97,563.14 147.48,563.2 146.01,563.06 144.63,562.75 143.42,562.26 142.43,561.64 141.72,560.9 141.31,560.1 141.24,559.25" fill="#ececec" stroke="#1f1f1f" stroke-width="1.05" stroke-linejoin="round" />
<polygon points="153.35,551.21 154.06,551.94 154.46,552.75 154.54,553.6 154.28,554.43 153.7,555.22 152.83,555.91 151.71,556.48 150.4,556.9 148.97,557.14 147.48,557.2 146.01,557.06 144.63,556.75 143.42,556.27 142.43,555.64 141.72,554.91 141.31,554.1 141.23,553.25 141.49,552.42 142.07,551.63 142.94,550.94 144.06,550.37 145.37,549.95 146.81,549.71 148.3,549.65 149.77,549.79 151.14,550.1 152.36,550.58" fill="#ffffff" stroke="#1f1f1f" stroke-width="1.05" stroke-linejoin="round" />
<polygon points="150.86,552.22 151.24,552.62 151.46,553.06 151.51,553.52 151.37,553.97 151.05,554.4 150.58,554.78 149.97,555.09 149.26,555.31 148.47,555.45 147.66,555.48 146.86,555.4 146.12,555.23 145.46,554.97 144.92,554.63 144.53,554.23 144.31,553.79 144.27,553.33 144.41,552.88 144.72,552.45 145.2,552.07 145.81,551.76 146.52,551.54 147.3,551.4 148.11,551.37 148.91,551.45 149.66,551.62 150.32,551.88" fill="#ebebeb" stroke="#1f1f1f" stroke-width="0.89" stroke-linejoin="round" />
<polygon points="258.11,554.33 258.37,553.49 258.95,552.71 259.82,552.01 260.94,551.44 262.25,551.03 263.68,550.78 265.17,550.73 266.64,550.86 268.02,551.18 269.23,551.66 270.22,552.28 270.94,553.02 271.34,553.83 271.42,554.67 271.42,560.67 271.16,561.51 270.58,562.29 269.71,562.99 268.59,563.56 267.28,563.97 265.84,564.22 264.35,564.27 262.88,564.14 261.5,563.82 260.29,563.34 259.31,562.72 258.59,561.98 258.19,561.17 258.11,560.33" fill="#ececec" stroke="#1f1f1f" stroke-width="1.05" stroke-linejoin="round" />
<polygon points="270.22,552.28 270.93,553.02 271.34,553.83 271.42,554.67 271.16,555.51 270.58,556.29 269.71,556.99 268.59,557.56 267.28,557.97 265.84,558.22 264.35,558.27 262.88,558.14 261.51,557.82 260.29,557.34 259.3,556.72 258.59,555.98 258.19,555.17 258.11,554.33 258.37,553.49 258.95,552.71 259.82,552.01 260.94,551.44 262.25,551.03 263.68,550.78 265.17,550.73 266.64,550.86 268.02,551.18 269.23,551.66" fill="#ffffff" stroke="#1f1f1f" stroke-width="1.05" stroke-linejoin="round" />
<polygon points="267.73,553.29 268.12,553.7 268.34,554.14 268.38,554.59 268.24,555.05 267.93,555.47 267.45,555.85 266.84,556.16 266.13,556.39 265.35,556.52 264.54,556.55 263.74,556.48 262.99,556.31 262.33,556.04 261.79,555.71 261.41,555.3 261.19,554.86 261.14,554.41 261.28,553.95 261.6,553.53 262.07,553.15 262.68,552.84 263.39,552.61 264.18,552.48 264.99,552.45 265.79,552.52 266.53,552.69 267.19,552.96" fill="#ebebeb" stroke="#1f1f1f" stroke-width="0.89" stroke-linejoin="round" />
<polygon points="238.96,562.1 239.22,561.27 239.8,560.48 240.67,559.79 241.79,559.22 243.1,558.8 244.53,558.56 246.02,558.5 247.49,558.64 248.87,558.95 250.08,559.43 251.07,560.06 251.78,560.79 252.19,561.61 252.26,562.45 252.26,568.45 252.01,569.28 251.43,570.07 250.56,570.76 249.44,571.33 248.13,571.75 246.69,571.99 245.2,572.05 243.73,571.91 242.35,571.6 241.14,571.12 240.16,570.49 239.44,569.75 239.03,568.95 238.96,568.1" fill="#ececec" stroke="#1f1f1f" stroke-width="1.05" stroke-linejoin="round" />
<polygon points="251.07,560.06 251.78,560.79 252.19,561.6 252.27,562.45 252.01,563.28 251.43,564.07 250.56,564.76 249.44,565.33 248.13,565.75 246.69,565.99 245.2,566.05 243.73,565.91 242.36,565.6 241.14,565.12 240.15,564.49 239.44,563.76 239.04,562.95 238.96,562.1 239.22,561.27 239.8,560.48 240.67,559.79 241.79,559.22 243.1,558.8 244.53,558.56 246.02,558.5 247.49,558.64 248.87,558.95 250.08,559.43" fill="#ffffff" stroke="#1f1f1f" stroke-width="1.05" stroke-linejoin="round" />
<polygon points="248.58,561.07 248.97,561.47 249.19,561.91 249.23,562.37 249.09,562.82 248.78,563.25 248.3,563.63 247.69,563.94 246.98,564.16 246.2,564.3 245.39,564.33 244.59,564.25 243.84,564.08 243.18,563.82 242.64,563.48 242.26,563.08 242.04,562.64 241.99,562.18 242.13,561.73 242.45,561.3 242.92,560.92 243.53,560.61 244.24,560.39 245.03,560.25 245.84,560.22 246.64,560.3 247.38,560.47 248.04,560.73" fill="#ebebeb" stroke="#1f1f1f" stroke-width="0.89" stroke-linejoin="round" />
<polygon points="219.81,569.88 220.07,569.04 220.65,568.26 221.52,567.56 222.64,566.99 223.95,566.58 225.38,566.34 226.87,566.28 228.34,566.41 229.72,566.73 230.93,567.21 231.92,567.83 232.63,568.57 233.04,569.38 233.12,570.22 233.12,576.22 232.86,577.06 232.28,577.84 231.41,578.54 230.29,579.11 228.98,579.52 227.54,579.76 226.05,579.82 224.58,579.69 223.21,579.37 221.99,578.89 221,578.27 220.29,577.53 219.88,576.72 219.81,575.88" fill="#ececec" stroke="#1f1f1f" stroke-width="1.05" stroke-linejoin="round" />
<polygon points="231.92,567.83 232.63,568.57 233.04,569.38 233.12,570.22 232.86,571.06 232.28,571.84 231.41,572.54 230.29,573.11 228.98,573.52 227.54,573.77 226.05,573.82 224.58,573.69 223.21,573.37 221.99,572.89 221,572.27 220.29,571.53 219.89,570.72 219.81,569.88 220.07,569.04 220.65,568.26 221.52,567.56 222.64,566.99 223.95,566.58 225.38,566.33 226.87,566.28 228.34,566.41 229.72,566.73 230.93,567.21" fill="#ffffff" stroke="#1f1f1f" stroke-width="1.05" stroke-linejoin="round" />
<polygon points="229.43,568.84 229.82,569.25 230.04,569.69 230.08,570.14 229.94,570.6 229.63,571.02 229.15,571.4 228.54,571.71 227.83,571.94 227.05,572.07 226.24,572.1 225.44,572.03 224.69,571.86 224.03,571.59 223.49,571.26 223.11,570.85 222.89,570.41 222.84,569.96 222.98,569.5 223.3,569.08 223.77,568.7 224.38,568.39 225.09,568.16 225.88,568.03 226.69,568 227.49,568.07 228.23,568.24 228.89,568.51" fill="#ebebeb" stroke="#1f1f1f" stroke-width="0.89" stroke-linejoin="round" />
<polygon points="200.66,577.65 200.92,576.82 201.5,576.03 202.37,575.34 203.49,574.77 204.8,574.35 206.23,574.11 207.72,574.05 209.19,574.19 210.57,574.5 211.78,574.99 212.77,575.61 213.49,576.35 213.89,577.15 213.97,578 213.97,584 213.71,584.83 213.13,585.62 212.26,586.31 211.14,586.88 209.83,587.3 208.39,587.54 206.9,587.6 205.43,587.46 204.06,587.15 202.84,586.66 201.85,586.04 201.14,585.3 200.74,584.5 200.66,583.65" fill="#ececec" stroke="#1f1f1f" stroke-width="1.05" stroke-linejoin="round" />
<polygon points="212.77,575.61 213.48,576.34 213.89,577.15 213.97,578 213.71,578.83 213.13,579.62 212.26,580.31 211.14,580.88 209.83,581.3 208.39,581.54 206.9,581.6 205.43,581.46 204.06,581.15 202.84,580.67 201.85,580.04 201.14,579.31 200.74,578.5 200.66,577.65 200.92,576.82 201.5,576.03 202.37,575.34 203.49,574.77 204.8,574.35 206.23,574.11 207.72,574.05 209.19,574.19 210.57,574.5 211.78,574.98" fill="#ffffff" stroke="#1f1f1f" stroke-width="1.05" stroke-linejoin="round" />
<polygon points="210.28,576.62 210.67,577.02 210.89,577.46 210.93,577.92 210.79,578.37 210.48,578.8 210,579.18 209.39,579.49 208.68,579.71 207.9,579.85 207.09,579.88 206.29,579.8 205.54,579.63 204.88,579.37 204.34,579.03 203.96,578.63 203.74,578.19 203.69,577.73 203.83,577.28 204.15,576.85 204.62,576.47 205.23,576.16 205.94,575.94 206.73,575.8 207.54,575.77 208.34,575.85 209.08,576.02 209.74,576.28" fill="#ebebeb" stroke="#1f1f1f" stroke-width="0.89" stroke-linejoin="round" />
<polygon points="181.51,585.43 181.77,584.59 182.35,583.81 183.22,583.11 184.34,582.54 185.65,582.13 187.08,581.88 188.57,581.83 190.04,581.96 191.42,582.28 192.63,582.76 193.62,583.38 194.34,584.12 194.74,584.93 194.81,585.77 194.81,591.77 194.56,592.61 193.98,593.39 193.11,594.09 191.99,594.66 190.68,595.07 189.24,595.32 187.75,595.37 186.28,595.24 184.91,594.92 183.69,594.44 182.71,593.82 181.99,593.08 181.59,592.27 181.51,591.43" fill="#ececec" stroke="#1f1f1f" stroke-width="1.05" stroke-linejoin="round" />
<polygon points="193.62,583.38 194.33,584.12 194.74,584.93 194.82,585.77 194.56,586.61 193.98,587.39 193.11,588.09 191.99,588.66 190.68,589.07 189.24,589.32 187.75,589.37 186.28,589.24 184.91,588.92 183.69,588.44 182.7,587.82 181.99,587.08 181.59,586.27 181.51,585.43 181.77,584.59 182.35,583.81 183.22,583.11 184.34,582.54 185.65,582.13 187.08,581.88 188.57,581.83 190.04,581.96 191.42,582.28 192.63,582.76" fill="#ffffff" stroke="#1f1f1f" stroke-width="1.05" stroke-linejoin="round" />
<polygon points="191.13,584.39 191.52,584.8 191.74,585.24 191.78,585.69 191.64,586.15 191.33,586.57 190.85,586.95 190.24,587.26 189.53,587.49 188.75,587.62 187.94,587.65 187.14,587.58 186.39,587.41 185.73,587.14 185.19,586.81 184.81,586.4 184.59,585.96 184.54,585.51 184.68,585.05 185,584.63 185.47,584.25 186.08,583.94 186.79,583.71 187.58,583.58 188.39,583.55 189.19,583.62 189.93,583.79 190.59,584.06" fill="#ebebeb" stroke="#1f1f1f" stroke-width="0.89" stroke-linejoin="round" />
<polygon points="162.36,593.2 162.62,592.37 163.2,591.58 164.07,590.89 165.19,590.32 166.5,589.9 167.93,589.66 169.42,589.6 170.89,589.74 172.27,590.05 173.48,590.53 174.47,591.16 175.19,591.89 175.59,592.71 175.66,593.55 175.66,599.55 175.41,600.38 174.83,601.17 173.96,601.86 172.84,602.43 171.53,602.85 170.09,603.09 168.6,603.15 167.13,603.01 165.75,602.7 164.54,602.22 163.56,601.59 162.84,600.86 162.44,600.04 162.36,599.2" fill="#ececec" stroke="#1f1f1f" stroke-width="1.05" stroke-linejoin="round" />
<polygon points="174.47,591.16 175.18,591.89 175.59,592.7 175.67,593.55 175.41,594.38 174.83,595.17 173.96,595.86 172.84,596.43 171.53,596.85 170.09,597.09 168.6,597.15 167.13,597.01 165.76,596.7 164.54,596.22 163.55,595.59 162.84,594.86 162.44,594.05 162.36,593.2 162.62,592.37 163.2,591.58 164.07,590.89 165.19,590.32 166.5,589.9 167.93,589.66 169.42,589.6 170.89,589.74 172.27,590.05 173.48,590.53" fill="#ffffff" stroke="#1f1f1f" stroke-width="1.05" stroke-linejoin="round" />
<polygon points="171.98,592.17 172.37,592.57 172.59,593.01 172.63,593.47 172.49,593.92 172.18,594.35 171.7,594.73 171.09,595.04 170.38,595.26 169.6,595.4 168.79,595.43 167.99,595.35 167.24,595.18 166.58,594.92 166.04,594.58 165.66,594.18 165.44,593.74 165.39,593.28 165.53,592.83 165.85,592.4 166.32,592.02 166.93,591.71 167.64,591.49 168.43,591.35 169.24,591.32 170.04,591.4 170.78,591.57 171.44,591.83" fill="#ebebeb" stroke="#1f1f1f" stroke-width="0.89" stroke-linejoin="round" />
<polygon points="143.21,600.98 143.47,600.14 144.05,599.36 144.92,598.66 146.04,598.09 147.35,597.68 148.78,597.43 150.27,597.38 151.74,597.51 153.12,597.83 154.33,598.31 155.32,598.93 156.03,599.67 156.44,600.48 156.51,601.32 156.51,607.32 156.26,608.16 155.68,608.94 154.81,609.64 153.69,610.21 152.38,610.62 150.94,610.87 149.45,610.92 147.98,610.79 146.6,610.47 145.39,609.99 144.41,609.37 143.69,608.63 143.28,607.82 143.21,606.98" fill="#ececec" stroke="#1f1f1f" stroke-width="1.05" stroke-linejoin="round" />
<polygon points="155.32,598.93 156.03,599.67 156.44,600.48 156.52,601.32 156.26,602.16 155.68,602.94 154.81,603.64 153.69,604.21 152.38,604.62 150.94,604.87 149.45,604.92 147.98,604.79 146.61,604.47 145.39,603.99 144.4,603.37 143.69,602.63 143.29,601.82 143.21,600.98 143.47,600.14 144.05,599.36 144.92,598.66 146.04,598.09 147.35,597.68 148.78,597.43 150.27,597.38 151.74,597.51 153.12,597.83 154.33,598.31" fill="#ffffff" stroke="#1f1f1f" stroke-width="1.05" stroke-linejoin="round" />
<polygon points="152.83,599.94 153.22,600.35 153.44,600.79 153.48,601.24 153.34,601.7 153.03,602.12 152.55,602.5 151.94,602.81 151.23,603.04 150.45,603.17 149.64,603.2 148.84,603.13 148.09,602.96 147.43,602.69 146.89,602.36 146.51,601.95 146.29,601.51 146.24,601.06 146.38,600.6 146.7,600.18 147.17,599.8 147.78,599.49 148.49,599.26 149.28,599.13 150.09,599.1 150.89,599.17 151.63,599.34 152.29,599.61" fill="#ebebeb" stroke="#1f1f1f" stroke-width="0.89" stroke-linejoin="round" />
<polygon points="208.4,517.6 236,539.5 236,544.9 208.4,523" fill="#979797" stroke="#1f1f1f" stroke-width="1.1" stroke-linejoin="round" />
<polygon points="236,539.5 272,524.5 272,529.9 236,544.9" fill="#b3b3b3" stroke="#1f1f1f" stroke-width="1.1" stroke-linejoin="round" />
<polygon points="208.4,517.6 245.6,502.6 272,524.5 236,539.5" fill="#a7a7a7" stroke="#1f1f1f" stroke-width="1.1" stroke-linejoin="round" />
<polygon points="198.69,529.93 198.94,529.09 199.52,528.31 200.39,527.61 201.51,527.04 202.82,526.63 204.26,526.38 205.75,526.33 207.22,526.46 208.59,526.78 209.81,527.26 210.79,527.88 211.51,528.62 211.91,529.43 211.99,530.27 211.99,536.27 211.73,537.11 211.15,537.89 210.28,538.59 209.16,539.16 207.85,539.57 206.42,539.82 204.93,539.87 203.46,539.74 202.08,539.42 200.87,538.94 199.88,538.32 199.16,537.58 198.76,536.77 198.69,535.93" fill="#ececec" stroke="#1f1f1f" stroke-width="1.05" stroke-linejoin="round" />
<polygon points="210.8,527.88 211.51,528.62 211.91,529.43 211.99,530.27 211.73,531.11 211.15,531.89 210.28,532.59 209.16,533.16 207.85,533.57 206.42,533.82 204.93,533.87 203.46,533.74 202.08,533.42 200.87,532.94 199.88,532.32 199.17,531.58 198.76,530.77 198.68,529.93 198.94,529.09 199.52,528.31 200.39,527.61 201.51,527.04 202.82,526.63 204.26,526.38 205.75,526.33 207.22,526.46 208.59,526.78 209.81,527.26" fill="#ffffff" stroke="#1f1f1f" stroke-width="1.05" stroke-linejoin="round" />
<polygon points="208.31,528.89 208.69,529.3 208.91,529.74 208.96,530.19 208.82,530.65 208.5,531.07 208.03,531.45 207.42,531.76 206.71,531.99 205.92,532.12 205.11,532.15 204.31,532.08 203.57,531.91 202.91,531.64 202.37,531.31 201.98,530.9 201.76,530.46 201.72,530.01 201.86,529.55 202.17,529.13 202.65,528.75 203.26,528.44 203.97,528.21 204.75,528.08 205.56,528.05 206.36,528.12 207.11,528.29 207.77,528.56" fill="#ebebeb" stroke="#1f1f1f" stroke-width="0.89" stroke-linejoin="round" />
<polygon points="263.83,535.83 264.09,534.99 264.67,534.21 265.54,533.51 266.66,532.94 267.97,532.53 269.41,532.28 270.9,532.23 272.37,532.36 273.75,532.68 274.96,533.16 275.94,533.78 276.66,534.52 277.06,535.33 277.14,536.17 277.14,542.17 276.88,543.01 276.3,543.79 275.43,544.49 274.31,545.06 273,545.47 271.57,545.72 270.08,545.77 268.61,545.64 267.23,545.32 266.02,544.84 265.03,544.22 264.31,543.48 263.91,542.67 263.83,541.83" fill="#ececec" stroke="#1f1f1f" stroke-width="1.05" stroke-linejoin="round" />
<polygon points="275.95,533.78 276.66,534.52 277.06,535.33 277.14,536.17 276.88,537.01 276.3,537.79 275.43,538.49 274.31,539.06 273,539.47 271.57,539.72 270.08,539.77 268.61,539.64 267.23,539.32 266.02,538.84 265.03,538.22 264.32,537.48 263.91,536.67 263.83,535.83 264.09,534.99 264.67,534.21 265.54,533.51 266.66,532.94 267.97,532.53 269.41,532.28 270.9,532.23 272.37,532.36 273.74,532.68 274.96,533.16" fill="#ffffff" stroke="#1f1f1f" stroke-width="1.05" stroke-linejoin="round" />
<polygon points="273.46,534.79 273.84,535.2 274.06,535.64 274.11,536.09 273.97,536.55 273.65,536.97 273.18,537.35 272.57,537.66 271.86,537.89 271.07,538.02 270.26,538.05 269.46,537.98 268.72,537.81 268.06,537.54 267.52,537.21 267.13,536.8 266.91,536.36 266.87,535.91 267.01,535.45 267.32,535.03 267.8,534.65 268.41,534.34 269.12,534.11 269.9,533.98 270.71,533.95 271.51,534.02 272.26,534.19 272.92,534.46" fill="#ebebeb" stroke="#1f1f1f" stroke-width="0.89" stroke-linejoin="round" />
<polygon points="93.2,568.7 119.8,591 119.8,593.3 93.2,571.6" fill="#1c1c1c" stroke="none" stroke-width="0.8" stroke-linejoin="round" />
<polygon points="93.5,563.7 120,585.7 120,590.9 93.5,568.9" fill="#979797" stroke="#1f1f1f" stroke-width="1.1" stroke-linejoin="round" />
<polygon points="120,585.7 158.9,569.9 158.9,575.1 120,590.9" fill="#b3b3b3" stroke="#1f1f1f" stroke-width="1.1" stroke-linejoin="round" />
<polygon points="93.5,563.7 132.4,547.3 158.9,569.9 120,585.7" fill="#a7a7a7" stroke="#1f1f1f" stroke-width="1.1" stroke-linejoin="round" />
<polygon points="129.78,590.25 130.04,589.42 130.62,588.63 131.49,587.94 132.61,587.37 133.92,586.95 135.36,586.71 136.85,586.65 138.32,586.79 139.69,587.1 140.91,587.59 141.9,588.21 142.61,588.95 143.01,589.75 143.09,590.6 143.09,596.6 142.83,597.43 142.25,598.22 141.38,598.91 140.26,599.48 138.95,599.9 137.52,600.14 136.03,600.2 134.56,600.06 133.18,599.75 131.97,599.26 130.98,598.64 130.26,597.9 129.86,597.1 129.78,596.25" fill="#ececec" stroke="#1f1f1f" stroke-width="1.05" stroke-linejoin="round" />
<polygon points="141.9,588.21 142.61,588.94 143.01,589.75 143.09,590.6 142.83,591.43 142.25,592.22 141.38,592.91 140.26,593.48 138.95,593.9 137.52,594.14 136.03,594.2 134.56,594.06 133.18,593.75 131.97,593.27 130.98,592.64 130.27,591.91 129.86,591.1 129.78,590.25 130.04,589.42 130.62,588.63 131.49,587.94 132.61,587.37 133.92,586.95 135.36,586.71 136.85,586.65 138.32,586.79 139.69,587.1 140.91,587.58" fill="#ffffff" stroke="#1f1f1f" stroke-width="1.05" stroke-linejoin="round" />
<polygon points="139.41,589.22 139.79,589.62 140.01,590.06 140.06,590.52 139.92,590.97 139.6,591.4 139.13,591.78 138.52,592.09 137.81,592.31 137.02,592.45 136.21,592.48 135.41,592.4 134.67,592.23 134.01,591.97 133.47,591.63 133.08,591.23 132.86,590.79 132.82,590.33 132.96,589.88 133.27,589.45 133.75,589.07 134.36,588.76 135.07,588.54 135.85,588.4 136.66,588.37 137.46,588.45 138.21,588.62 138.87,588.88" fill="#ebebeb" stroke="#1f1f1f" stroke-width="0.89" stroke-linejoin="round" />
<polygon points="434.5,103.7 488.7,148 488.7,154.5 434.5,110.2" fill="#979797" stroke="#1f1f1f" stroke-width="1.1" stroke-linejoin="round" />
<polygon points="488.7,148 565,116.2 565,122.7 488.7,154.5" fill="#b3b3b3" stroke="#1f1f1f" stroke-width="1.1" stroke-linejoin="round" />
<polygon points="434.5,103.7 511.2,73 565,116.2 488.7,148" fill="#a7a7a7" stroke="#1f1f1f" stroke-width="1.1" stroke-linejoin="round" />
<polygon points="594.9,103 648.6,146.8 648.6,153.6 594.9,109.8" fill="#979797" stroke="#1f1f1f" stroke-width="1.1" stroke-linejoin="round" />
<polygon points="648.6,146.8 724.8,116 724.8,122.8 648.6,153.6" fill="#b3b3b3" stroke="#1f1f1f" stroke-width="1.1" stroke-linejoin="round" />
<polygon points="594.9,103 670,73 724.8,116 648.6,146.8" fill="#9f9f9f" stroke="#1f1f1f" stroke-width="1.1" stroke-linejoin="round" />
<polygon points="599.41,103.48 669.29,75.56 720.22,115.57 649.39,144.19" fill="#a1a1a1" stroke="#2e2e2e" stroke-width="0.85" stroke-linejoin="round" />
<g fill="#6e6e6e" transform="matrix(27.79 -11.1 19.87 16.21 659.58 109.7)">
<path d="M -0.5446 -0.8387 A 1 1 0 1 0 0.5446 -0.8387 A 0.74 0.84 0 1 1 -0.5446 -0.8387 Z"/>
<path d="M -0.48 0.64 Q -0.13 0.52 -0.11 0.2 L -0.1 -0.45 L 0.1 -0.45 L 0.11 0.2 Q 0.13 0.52 0.48 0.64 L 0 0.8 Z"/>
<path d="M -0.1 -0.96 L 0.1 -0.96 L 0.13 -0.8 L 0.29 -0.82 L 0.25 -0.65 L 0.4 -0.6 Q 0.45 -0.48 0.35 -0.4 Q 0.18 -0.42 0.1 -0.28 L -0.1 -0.28 Q -0.18 -0.42 -0.35 -0.4 Q -0.45 -0.48 -0.4 -0.6 L -0.25 -0.65 L -0.29 -0.82 L -0.13 -0.8 Z"/>
</g>
<polyline points="621.83,94.52 672.11,135.01" fill="none" stroke="#3a3a3a" stroke-width="0.7" stroke-linejoin="round" stroke-linecap="round" />
<polyline points="646.87,84.51 697.49,124.75" fill="none" stroke="#3a3a3a" stroke-width="0.7" stroke-linejoin="round" stroke-linecap="round" />
<line x1="637.4" y1="73" x2="637.4" y2="88" stroke="#1e1e1e" stroke-width="1.3"/>
<circle cx="637.4" cy="88" r="1.5" fill="#111"/>
<rect x="618" y="35" width="38.3" height="38" rx="5" ry="5" fill="#ffffff" stroke="#2a2a2a" stroke-width="1.2"/>
<clipPath id="k6"><rect x="621.2" y="38.2" width="31.9" height="31.6" rx="4.2" ry="4.2"/></clipPath>
<rect x="621.2" y="38.2" width="31.9" height="31.6" rx="4.2" ry="4.2" fill="#ffffff"/>
<linearGradient id="g6" x1="0" y1="0" x2="0.55" y2="0.55"><stop offset="0" stop-color="#ededed"/><stop offset="0.35" stop-color="#b4b4b4"/><stop offset="0.72" stop-color="#585858"/><stop offset="1" stop-color="#050505"/></linearGradient>
<g clip-path="url(#k6)">
<polygon points="620.2,37.2 640.34,37.2 620.2,57.16" fill="url(#g6)"/>
<path d="M 640.34 38.2 C 637.15 42.62 639.06 50.21 634.28 52.42 C 629.81 54.32 625.35 51.79 621.2 57.16 Z" fill="#dadada" stroke="#1e1e1e" stroke-width="0.9" stroke-linejoin="round"/>
</g>
<rect x="621.2" y="38.2" width="31.9" height="31.6" rx="4.2" ry="4.2" fill="none" stroke="#2a2a2a" stroke-width="1.15"/>
<text x="637.15" y="67.2" font-size="12.5"  text-anchor="middle" fill="#111" transform="translate(637.15 67.2) scale(1.12 1) translate(-637.15 -67.2)" stroke="#111" stroke-width="0.25" stroke-linejoin="round">9</text>
<line x1="615.2" y1="167.6" x2="615.2" y2="268" stroke="#1a1a1a" stroke-width="2.1"/>
<polygon points="608.3,264.8 615.2,266.6 622.1,264.8 615.2,282.2" fill="#0e0e0e" stroke="#0e0e0e" stroke-width="0.4" stroke-linejoin="round" />
<polygon points="516.3,334.1 570,377 570,383.9 516.3,341" fill="#f1f1f1" stroke="#1f1f1f" stroke-width="1.1" stroke-linejoin="round" />
<polygon points="570,377 723.2,314.8 723.2,321.7 570,383.9" fill="#ffffff" stroke="#1f1f1f" stroke-width="1.1" stroke-linejoin="round" />
<polygon points="516.3,334.1 669.5,271.9 723.2,314.8 570,377" fill="#f3f3f3" stroke="#1f1f1f" stroke-width="1.1" stroke-linejoin="round" />
<polyline points="520.21,334.45 668.81,274.12 719.29,314.45" fill="none" stroke="#8a8a8a" stroke-width="0.66" stroke-linejoin="round" stroke-linecap="round" />
<polyline points="518.87,335 570.63,374.97 720.38,314.16" fill="none" stroke="#1c1c1c" stroke-width="2.1" stroke-linejoin="round" stroke-linecap="round" />
<clipPath id="c7"><polygon points="548.88,337.05 663.77,290.4 690.62,311.85 575.72,358.5"/></clipPath>
<polygon points="548.88,337.05 663.77,290.4 690.62,311.85 575.72,358.5" fill="#e4e4e4" stroke="#1f1f1f" stroke-width="1.1" stroke-linejoin="round" />
<g clip-path="url(#c7)">
<polygon points="548.88,340.02 659.94,294.93 692.16,320.66 581.1,365.76" fill="#f6f6f6" stroke="#1f1f1f" stroke-width="0.88" stroke-linejoin="round" />
</g>
<polygon points="548.88,337.05 663.77,290.4 690.62,311.85 575.72,358.5" fill="none" stroke="#1f1f1f" stroke-width="1.1" stroke-linejoin="round" />
<polyline points="555.27,319.09 568.03,329.27" fill="none" stroke="#555" stroke-width="0.77" stroke-linejoin="round" stroke-linecap="round" />
<polyline points="594.88,350.72 607.63,360.91" fill="none" stroke="#555" stroke-width="0.77" stroke-linejoin="round" stroke-linecap="round" />
<polyline points="593.57,303.54 606.32,313.73" fill="none" stroke="#555" stroke-width="0.77" stroke-linejoin="round" stroke-linecap="round" />
<polyline points="633.18,335.17 645.93,345.36" fill="none" stroke="#555" stroke-width="0.77" stroke-linejoin="round" stroke-linecap="round" />
<polyline points="631.87,287.99 644.62,298.17" fill="none" stroke="#555" stroke-width="0.77" stroke-linejoin="round" stroke-linecap="round" />
<polyline points="671.48,319.62 684.23,329.81" fill="none" stroke="#555" stroke-width="0.77" stroke-linejoin="round" stroke-linecap="round" />
<polyline points="544.11,355.16 562.3,347.78" fill="none" stroke="#555" stroke-width="0.77" stroke-linejoin="round" stroke-linecap="round" />
<polyline points="677.2,301.12 695.39,293.74" fill="none" stroke="#555" stroke-width="0.77" stroke-linejoin="round" stroke-linecap="round" />
<polygon points="631.77,277.52 658.62,298.97 658.62,304.27 631.77,282.82" fill="#979797" stroke="#1f1f1f" stroke-width="1.1" stroke-linejoin="round" />
<polygon points="658.62,298.97 696.35,283.65 696.35,288.95 658.62,304.27" fill="#b3b3b3" stroke="#1f1f1f" stroke-width="1.1" stroke-linejoin="round" />
<polygon points="631.77,277.52 669.5,262.2 696.35,283.65 658.62,298.97" fill="#a7a7a7" stroke="#1f1f1f" stroke-width="1.1" stroke-linejoin="round" />
<polygon points="686.84,296.43 687.09,295.59 687.67,294.81 688.54,294.11 689.66,293.54 690.97,293.13 692.41,292.88 693.9,292.83 695.37,292.96 696.75,293.28 697.96,293.76 698.95,294.38 699.66,295.12 700.07,295.93 700.14,296.77 700.14,302.77 699.88,303.61 699.3,304.39 698.43,305.09 697.31,305.66 696,306.07 694.57,306.31 693.08,306.37 691.61,306.24 690.23,305.92 689.02,305.44 688.03,304.82 687.32,304.08 686.91,303.27 686.84,302.43" fill="#ececec" stroke="#1f1f1f" stroke-width="1.05" stroke-linejoin="round" />
<polygon points="698.95,294.38 699.66,295.12 700.06,295.93 700.14,296.77 699.88,297.61 699.3,298.39 698.43,299.09 697.31,299.66 696,300.07 694.57,300.32 693.08,300.37 691.61,300.24 690.23,299.92 689.02,299.44 688.03,298.82 687.32,298.08 686.91,297.27 686.83,296.43 687.09,295.59 687.67,294.81 688.54,294.11 689.66,293.54 690.97,293.13 692.41,292.88 693.9,292.83 695.37,292.96 696.74,293.28 697.96,293.76" fill="#ffffff" stroke="#1f1f1f" stroke-width="1.05" stroke-linejoin="round" />
<polygon points="696.46,295.39 696.84,295.8 697.06,296.24 697.11,296.69 696.97,297.15 696.65,297.57 696.18,297.95 695.57,298.26 694.86,298.49 694.07,298.62 693.26,298.65 692.46,298.58 691.72,298.41 691.06,298.14 690.52,297.81 690.13,297.4 689.91,296.96 689.87,296.51 690.01,296.05 690.32,295.63 690.8,295.25 691.41,294.94 692.12,294.71 692.9,294.58 693.71,294.55 694.51,294.62 695.26,294.79 695.92,295.06" fill="#ebebeb" stroke="#1f1f1f" stroke-width="0.89" stroke-linejoin="round" />
<polygon points="700.26,307.15 700.52,306.32 701.1,305.53 701.97,304.84 703.09,304.27 704.4,303.85 705.83,303.61 707.32,303.55 708.79,303.69 710.17,304 711.38,304.49 712.37,305.11 713.09,305.85 713.49,306.65 713.57,307.5 713.57,313.5 713.31,314.33 712.73,315.12 711.86,315.81 710.74,316.38 709.43,316.8 707.99,317.04 706.5,317.1 705.03,316.96 703.65,316.65 702.44,316.17 701.46,315.54 700.74,314.81 700.34,314 700.26,313.15" fill="#ececec" stroke="#1f1f1f" stroke-width="1.05" stroke-linejoin="round" />
<polygon points="712.37,305.11 713.08,305.84 713.49,306.65 713.57,307.5 713.31,308.33 712.73,309.12 711.86,309.81 710.74,310.38 709.43,310.8 707.99,311.04 706.5,311.1 705.03,310.96 703.66,310.65 702.44,310.17 701.45,309.54 700.74,308.81 700.34,308 700.26,307.15 700.52,306.32 701.1,305.53 701.97,304.84 703.09,304.27 704.4,303.85 705.83,303.61 707.32,303.55 708.79,303.69 710.17,304 711.38,304.48" fill="#ffffff" stroke="#1f1f1f" stroke-width="1.05" stroke-linejoin="round" />
<polygon points="709.88,306.12 710.27,306.52 710.49,306.96 710.53,307.42 710.39,307.87 710.08,308.3 709.6,308.68 708.99,308.99 708.28,309.21 707.5,309.35 706.69,309.38 705.89,309.3 705.14,309.13 704.48,308.87 703.94,308.53 703.56,308.13 703.34,307.69 703.29,307.23 703.43,306.78 703.75,306.35 704.22,305.97 704.83,305.66 705.54,305.44 706.33,305.3 707.14,305.27 707.94,305.35 708.68,305.52 709.34,305.78" fill="#ebebeb" stroke="#1f1f1f" stroke-width="0.89" stroke-linejoin="round" />
<polygon points="681.11,314.93 681.37,314.09 681.95,313.31 682.82,312.61 683.94,312.04 685.25,311.63 686.68,311.38 688.17,311.33 689.64,311.46 691.02,311.78 692.23,312.26 693.22,312.88 693.93,313.62 694.34,314.43 694.41,315.27 694.41,321.27 694.16,322.11 693.58,322.89 692.71,323.59 691.59,324.16 690.28,324.57 688.84,324.81 687.35,324.87 685.88,324.74 684.5,324.42 683.29,323.94 682.3,323.32 681.59,322.58 681.18,321.77 681.11,320.93" fill="#ececec" stroke="#1f1f1f" stroke-width="1.05" stroke-linejoin="round" />
<polygon points="693.22,312.88 693.93,313.62 694.34,314.43 694.42,315.27 694.16,316.11 693.58,316.89 692.71,317.59 691.59,318.16 690.28,318.57 688.84,318.82 687.35,318.87 685.88,318.74 684.51,318.42 683.29,317.94 682.3,317.32 681.59,316.58 681.19,315.77 681.11,314.93 681.37,314.09 681.95,313.31 682.82,312.61 683.94,312.04 685.25,311.63 686.68,311.38 688.17,311.33 689.64,311.46 691.02,311.78 692.23,312.26" fill="#ffffff" stroke="#1f1f1f" stroke-width="1.05" stroke-linejoin="round" />
<polygon points="690.73,313.89 691.12,314.3 691.34,314.74 691.38,315.19 691.24,315.65 690.93,316.07 690.45,316.45 689.84,316.76 689.13,316.99 688.35,317.12 687.54,317.15 686.74,317.08 685.99,316.91 685.33,316.64 684.79,316.31 684.41,315.9 684.19,315.46 684.14,315.01 684.28,314.55 684.6,314.13 685.07,313.75 685.68,313.44 686.39,313.21 687.18,313.08 687.99,313.05 688.79,313.12 689.53,313.29 690.19,313.56" fill="#ebebeb" stroke="#1f1f1f" stroke-width="0.89" stroke-linejoin="round" />
<polygon points="609.45,356.88 683.75,326.72 683.75,330.52 609.45,360.68" fill="#1c1c1c" stroke="none" stroke-width="0.8" stroke-linejoin="round" />
<polygon points="555.75,308.38 609.45,351.28 609.45,357.58 555.75,314.68" fill="#979797" stroke="#1f1f1f" stroke-width="1.1" stroke-linejoin="round" />
<polygon points="609.45,351.28 683.75,321.12 683.75,327.42 609.45,357.58" fill="#b3b3b3" stroke="#1f1f1f" stroke-width="1.1" stroke-linejoin="round" />
<polygon points="555.75,308.38 630.05,278.22 683.75,321.12 609.45,351.28" fill="#9f9f9f" stroke="#1f1f1f" stroke-width="1.1" stroke-linejoin="round" />
<polygon points="560.23,308.83 629.33,280.77 679.27,320.67 610.17,348.73" fill="#a1a1a1" stroke="#2e2e2e" stroke-width="0.85" stroke-linejoin="round" />
<g fill="#6e6e6e" transform="matrix(27.49 -11.16 19.87 15.87 619.75 314.75)">
<path d="M -0.5446 -0.8387 A 1 1 0 1 0 0.5446 -0.8387 A 0.74 0.84 0 1 1 -0.5446 -0.8387 Z"/>
<path d="M -0.48 0.64 Q -0.13 0.52 -0.11 0.2 L -0.1 -0.45 L 0.1 -0.45 L 0.11 0.2 Q 0.13 0.52 0.48 0.64 L 0 0.8 Z"/>
<path d="M -0.1 -0.96 L 0.1 -0.96 L 0.13 -0.8 L 0.29 -0.82 L 0.25 -0.65 L 0.4 -0.6 Q 0.45 -0.48 0.35 -0.4 Q 0.18 -0.42 0.1 -0.28 L -0.1 -0.28 Q -0.18 -0.42 -0.35 -0.4 Q -0.45 -0.48 -0.4 -0.6 L -0.25 -0.65 L -0.29 -0.82 L -0.13 -0.8 Z"/>
</g>
<polyline points="582.4,299.83 632.34,339.73" fill="none" stroke="#3a3a3a" stroke-width="0.7" stroke-linejoin="round" stroke-linecap="round" />
<polyline points="607.16,289.77 657.1,329.67" fill="none" stroke="#3a3a3a" stroke-width="0.7" stroke-linejoin="round" stroke-linecap="round" />
<polygon points="516.3,329.4 543.15,350.85 543.15,353.85 516.3,333.7" fill="#1c1c1c" stroke="none" stroke-width="0.8" stroke-linejoin="round" />
<polygon points="516.3,324.4 543.15,345.85 543.15,351.25 516.3,329.8" fill="#979797" stroke="#1f1f1f" stroke-width="1.1" stroke-linejoin="round" />
<polygon points="543.15,345.85 580.88,330.53 580.88,335.93 543.15,351.25" fill="#b3b3b3" stroke="#1f1f1f" stroke-width="1.1" stroke-linejoin="round" />
<polygon points="516.3,324.4 554.03,309.08 580.88,330.53 543.15,345.85" fill="#a7a7a7" stroke="#1f1f1f" stroke-width="1.1" stroke-linejoin="round" />
<polygon points="552.78,350.85 553.04,350.02 553.62,349.23 554.49,348.54 555.61,347.97 556.92,347.55 558.36,347.31 559.85,347.25 561.32,347.39 562.7,347.7 563.91,348.19 564.89,348.81 565.61,349.55 566.01,350.36 566.09,351.2 566.09,357.2 565.83,358.03 565.25,358.82 564.38,359.51 563.26,360.08 561.95,360.5 560.52,360.74 559.03,360.8 557.56,360.66 556.18,360.35 554.97,359.87 553.98,359.24 553.26,358.5 552.86,357.69 552.78,356.85" fill="#ececec" stroke="#1f1f1f" stroke-width="1.05" stroke-linejoin="round" />
<polygon points="564.9,348.81 565.61,349.54 566.01,350.35 566.09,351.2 565.83,352.03 565.25,352.82 564.38,353.51 563.26,354.08 561.95,354.5 560.52,354.74 559.03,354.8 557.56,354.66 556.18,354.35 554.97,353.87 553.98,353.24 553.27,352.51 552.86,351.7 552.78,350.85 553.04,350.02 553.62,349.23 554.49,348.54 555.61,347.97 556.92,347.55 558.36,347.31 559.85,347.25 561.32,347.39 562.69,347.7 563.91,348.18" fill="#ffffff" stroke="#1f1f1f" stroke-width="1.05" stroke-linejoin="round" />
<polygon points="562.41,349.82 562.79,350.22 563.01,350.66 563.06,351.12 562.92,351.57 562.6,352 562.13,352.38 561.52,352.69 560.81,352.91 560.02,353.05 559.21,353.08 558.41,353 557.67,352.83 557.01,352.57 556.47,352.23 556.08,351.83 555.86,351.39 555.82,350.93 555.96,350.48 556.27,350.05 556.75,349.67 557.36,349.36 558.07,349.14 558.85,349 559.66,348.97 560.46,349.05 561.21,349.22 561.87,349.48" fill="#ebebeb" stroke="#1f1f1f" stroke-width="0.89" stroke-linejoin="round" />
<polygon points="585.36,353.8 585.62,352.97 586.2,352.18 587.07,351.49 588.19,350.92 589.5,350.5 590.93,350.26 592.42,350.2 593.89,350.34 595.27,350.65 596.48,351.13 597.47,351.76 598.18,352.5 598.59,353.31 598.66,354.15 598.66,360.15 598.41,360.98 597.83,361.77 596.96,362.46 595.84,363.03 594.53,363.45 593.09,363.69 591.6,363.75 590.13,363.61 588.75,363.3 587.54,362.81 586.55,362.19 585.84,361.45 585.43,360.64 585.36,359.8" fill="#ececec" stroke="#1f1f1f" stroke-width="1.05" stroke-linejoin="round" />
<polygon points="597.47,351.76 598.18,352.49 598.59,353.3 598.67,354.15 598.41,354.98 597.83,355.77 596.96,356.46 595.84,357.03 594.53,357.45 593.09,357.69 591.6,357.75 590.13,357.61 588.76,357.3 587.54,356.82 586.55,356.19 585.84,355.46 585.44,354.65 585.36,353.8 585.62,352.97 586.2,352.18 587.07,351.49 588.19,350.92 589.5,350.5 590.93,350.26 592.42,350.2 593.89,350.34 595.27,350.65 596.48,351.13" fill="#ffffff" stroke="#1f1f1f" stroke-width="1.05" stroke-linejoin="round" />
<polygon points="594.98,352.77 595.37,353.17 595.59,353.61 595.63,354.07 595.49,354.52 595.18,354.95 594.7,355.33 594.09,355.64 593.38,355.86 592.6,356 591.79,356.03 590.99,355.95 590.24,355.78 589.58,355.52 589.04,355.18 588.66,354.78 588.44,354.34 588.39,353.88 588.53,353.43 588.85,353 589.32,352.62 589.93,352.31 590.64,352.09 591.43,351.95 592.24,351.92 593.04,352 593.78,352.17 594.44,352.43" fill="#ebebeb" stroke="#1f1f1f" stroke-width="0.89" stroke-linejoin="round" />
<polygon points="566.21,361.58 566.47,360.74 567.05,359.96 567.92,359.26 569.04,358.69 570.35,358.28 571.78,358.04 573.27,357.98 574.74,358.11 576.12,358.43 577.33,358.91 578.32,359.53 579.03,360.27 579.44,361.08 579.51,361.92 579.51,367.92 579.26,368.76 578.68,369.54 577.81,370.24 576.69,370.81 575.38,371.22 573.94,371.46 572.45,371.52 570.98,371.39 569.61,371.07 568.39,370.59 567.4,369.97 566.69,369.23 566.28,368.42 566.21,367.58" fill="#ececec" stroke="#1f1f1f" stroke-width="1.05" stroke-linejoin="round" />
<polygon points="578.32,359.53 579.03,360.27 579.44,361.08 579.52,361.92 579.26,362.76 578.68,363.54 577.81,364.24 576.69,364.81 575.38,365.22 573.94,365.47 572.45,365.52 570.98,365.39 569.61,365.07 568.39,364.59 567.4,363.97 566.69,363.23 566.29,362.42 566.21,361.58 566.47,360.74 567.05,359.96 567.92,359.26 569.04,358.69 570.35,358.28 571.78,358.03 573.27,357.98 574.74,358.11 576.12,358.43 577.33,358.91" fill="#ffffff" stroke="#1f1f1f" stroke-width="1.05" stroke-linejoin="round" />
<polygon points="575.83,360.54 576.22,360.95 576.44,361.39 576.48,361.84 576.34,362.3 576.03,362.72 575.55,363.1 574.94,363.41 574.23,363.64 573.45,363.77 572.64,363.8 571.84,363.73 571.09,363.56 570.43,363.29 569.89,362.96 569.51,362.55 569.29,362.11 569.24,361.66 569.38,361.2 569.7,360.78 570.17,360.4 570.78,360.09 571.49,359.86 572.28,359.73 573.09,359.7 573.89,359.77 574.63,359.94 575.29,360.21" fill="#ebebeb" stroke="#1f1f1f" stroke-width="0.89" stroke-linejoin="round" />
<polygon points="542.45,590.75 569.2,612.2 722.5,551.4 722.5,555.9 569.2,617 542.45,595.55" fill="#1a1a1a" stroke="none" stroke-width="0.8" stroke-linejoin="round" />
<polygon points="684.75,570.37 722.5,555.4 722.5,561.2 684.75,576.17" fill="#b2b2b2" stroke="#1f1f1f" stroke-width="1" stroke-linejoin="round" />
<polygon points="608.29,599.9 683.6,570.03 683.6,575.83 608.29,605.7" fill="#b2b2b2" stroke="#1f1f1f" stroke-width="1" stroke-linejoin="round" />
<polygon points="569.2,616.5 607.14,601.45 607.14,607.25 569.2,622.3" fill="#b2b2b2" stroke="#1f1f1f" stroke-width="1" stroke-linejoin="round" />
<polygon points="542.45,595.05 569.2,616.5 569.2,622.3 542.45,600.85" fill="#909090" stroke="#1f1f1f" stroke-width="1" stroke-linejoin="round" />
<polygon points="515.7,563.3 569.2,606.2 569.2,612.6 515.7,569.7" fill="#efefef" stroke="#1f1f1f" stroke-width="1" stroke-linejoin="round" />
<polygon points="569.2,606.2 722.5,545.4 722.5,551.8 569.2,612.6" fill="#ffffff" stroke="#1f1f1f" stroke-width="1" stroke-linejoin="round" />
<polygon points="515.7,563.3 668.9,502.3 722.5,545.4 569.2,606.2" fill="#f6f6f6" stroke="#1f1f1f" stroke-width="1" stroke-linejoin="round" />
<polygon points="519.6,563.67 668.21,504.51 718.59,545.02 569.89,604" fill="#f2f2f2" stroke="#333" stroke-width="1" stroke-linejoin="round" />
<polygon points="522.86,563.98 667.63,506.35 715.34,544.7 570.47,602.17" fill="#9b9b9b" stroke="#4a4a4a" stroke-width="0.5" stroke-linejoin="round" />
<polygon points="524.48,564.14 537.12,559.11 558.39,576.17 545.75,581.19" fill="#ececec" stroke="none" stroke-width="0.8" stroke-linejoin="round" />
<polygon points="549.49,584.2 562.14,579.17 583.41,596.23 570.76,601.25" fill="#ececec" stroke="none" stroke-width="0.8" stroke-linejoin="round" />
<polygon points="654.71,512.3 667.35,507.27 688.65,524.4 676.01,529.42" fill="#ececec" stroke="none" stroke-width="0.8" stroke-linejoin="round" />
<polygon points="679.76,532.44 692.4,527.41 713.71,544.54 701.06,549.56" fill="#ececec" stroke="none" stroke-width="0.8" stroke-linejoin="round" />
<polygon points="540.63,557.55 555.18,551.76 559.73,555.41 545.18,561.2" fill="#ececec" stroke="none" stroke-width="0.8" stroke-linejoin="round" />
<polygon points="582.63,591.25 597.2,585.47 601.88,589.23 587.32,595" fill="#ececec" stroke="none" stroke-width="0.8" stroke-linejoin="round" />
<polygon points="559.78,549.93 574.33,544.13 578.88,547.79 564.33,553.58" fill="#ececec" stroke="none" stroke-width="0.8" stroke-linejoin="round" />
<polygon points="601.8,583.65 616.36,577.87 621.04,581.63 606.48,587.4" fill="#ececec" stroke="none" stroke-width="0.8" stroke-linejoin="round" />
<polygon points="578.93,542.3 593.48,536.51 598.03,540.16 583.48,545.96" fill="#ececec" stroke="none" stroke-width="0.8" stroke-linejoin="round" />
<polygon points="620.96,576.04 635.52,570.26 640.2,574.02 625.64,579.8" fill="#ececec" stroke="none" stroke-width="0.8" stroke-linejoin="round" />
<polygon points="598.08,534.68 612.63,528.89 617.19,532.54 602.63,538.34" fill="#ececec" stroke="none" stroke-width="0.8" stroke-linejoin="round" />
<polygon points="640.12,568.44 654.68,562.66 659.37,566.42 644.8,572.2" fill="#ececec" stroke="none" stroke-width="0.8" stroke-linejoin="round" />
<polygon points="617.23,527.06 631.78,521.26 636.34,524.92 621.78,530.71" fill="#ececec" stroke="none" stroke-width="0.8" stroke-linejoin="round" />
<polygon points="659.28,560.83 673.84,555.05 678.53,558.82 663.96,564.6" fill="#ececec" stroke="none" stroke-width="0.8" stroke-linejoin="round" />
<polygon points="636.38,519.43 650.94,513.64 655.49,517.3 640.93,523.09" fill="#ececec" stroke="none" stroke-width="0.8" stroke-linejoin="round" />
<polygon points="678.44,553.23 693,547.45 697.69,551.22 683.13,557" fill="#ececec" stroke="none" stroke-width="0.8" stroke-linejoin="round" />
<polygon points="546.4,561 651.9,516.3 695,548.6 588.8,589.4" fill="#393939" stroke="#1f1f1f" stroke-width="0.7" stroke-linejoin="round" />
<polyline points="600.2,539.6 619,554.2" fill="none" stroke="#e6e6e6" stroke-width="1.9" stroke-linejoin="round" stroke-linecap="round" />
<polyline points="600.2,539.6 619,554.2" fill="none" stroke="#4a4a4a" stroke-width="0.6" stroke-linejoin="round" stroke-linecap="round" />
<polyline points="565.6,575.2 595,562.9 594.8,560.9 601.2,558.3 603.7,560.3 614.4,556.1 618.6,555.2" fill="none" stroke="#e6e6e6" stroke-width="0.75" stroke-linejoin="round" stroke-linecap="round" />
<polyline points="620.6,554 629.2,550.7 630,546.2 634.8,544.4 637.3,546.5 645.8,543.6" fill="none" stroke="#e6e6e6" stroke-width="0.75" stroke-linejoin="round" stroke-linecap="round" />
<polygon points="617.6,553.6 620.4,552.5 622.6,554.3 619.8,555.4" fill="#393939" stroke="#e6e6e6" stroke-width="0.6" stroke-linejoin="round" />
<ellipse cx="622.5" cy="559.9" rx="3.3" ry="2.5" fill="none" stroke="#e6e6e6" stroke-width="0.8"/>
<ellipse cx="622.5" cy="559.9" rx="1" ry="0.8" fill="#e6e6e6"/>
<circle cx="608.4" cy="569.6" r="0.55" fill="#e6e6e6"/>
<circle cx="611.7" cy="568.3" r="0.55" fill="#e6e6e6"/>
<circle cx="614.7" cy="566.7" r="0.55" fill="#e6e6e6"/>
<circle cx="617.2" cy="564.7" r="0.55" fill="#e6e6e6"/>
<polygon points="625,566.8 634.6,568.3 626.2,570.7" fill="#e6e6e6" stroke="none" stroke-width="0.8" stroke-linejoin="round" />
<polyline points="571.6,573.4 588.4,587" fill="none" stroke="#e6e6e6" stroke-width="2.7" stroke-linejoin="round" stroke-linecap="round" />
<polyline points="571.7,573.5 588.1,586.7" fill="none" stroke="#858585" stroke-width="1.7" stroke-linejoin="round" stroke-linecap="round" />
<polyline points="578.8,570.4 595.6,584" fill="none" stroke="#e6e6e6" stroke-width="2.7" stroke-linejoin="round" stroke-linecap="round" />
<polyline points="578.9,570.5 595.3,583.7" fill="none" stroke="#858585" stroke-width="1.7" stroke-linejoin="round" stroke-linecap="round" />
<polyline points="586,567.4 602.8,581" fill="none" stroke="#e6e6e6" stroke-width="2.7" stroke-linejoin="round" stroke-linecap="round" />
<polyline points="586.1,567.5 602.5,580.7" fill="none" stroke="#858585" stroke-width="1.7" stroke-linejoin="round" stroke-linecap="round" />
<polyline points="593.2,564.4 610,578" fill="none" stroke="#e6e6e6" stroke-width="2.7" stroke-linejoin="round" stroke-linecap="round" />
<polyline points="593.3,564.5 609.7,577.7" fill="none" stroke="#858585" stroke-width="1.7" stroke-linejoin="round" stroke-linecap="round" />
<polygon points="646.2,546.1 650.5,541.9 659,541.4 665.4,539.8 670,541.9 666.4,544 676,547.8 671.8,551.4 667.5,555.7 659,557.2 654.8,553.6 657.9,550.4 651.6,548.2" fill="#5c5c5c" stroke="#e6e6e6" stroke-width="0.75" stroke-linejoin="round" />
<polyline points="652.5,542.6 659,548.6" fill="none" stroke="#e6e6e6" stroke-width="0.6" stroke-linejoin="round" stroke-linecap="round" />
<polyline points="657.1,543.2 663.3,550.2" fill="none" stroke="#e6e6e6" stroke-width="0.6" stroke-linejoin="round" stroke-linecap="round" />
<polyline points="661.7,543.8 667.6,551.8" fill="none" stroke="#e6e6e6" stroke-width="0.6" stroke-linejoin="round" stroke-linecap="round" />
<polyline points="666.3,544.4 671.9,553.4" fill="none" stroke="#e6e6e6" stroke-width="0.6" stroke-linejoin="round" stroke-linecap="round" />
<line x1="584.8" y1="507.2" x2="584.8" y2="537.2" stroke="#1e1e1e" stroke-width="1.3"/>
<circle cx="584.8" cy="537.2" r="1.5" fill="#111"/>
<rect x="552" y="441.4" width="65.8" height="65.8" rx="8" ry="8" fill="#ffffff" stroke="#2a2a2a" stroke-width="1.2"/>
<clipPath id="k8"><rect x="558" y="447.4" width="53.8" height="53.8" rx="6.8" ry="6.8"/></clipPath>
<rect x="558" y="447.4" width="53.8" height="53.8" rx="6.8" ry="6.8" fill="#ffffff"/>
<linearGradient id="g8" x1="0" y1="0" x2="0.55" y2="0.55"><stop offset="0" stop-color="#ededed"/><stop offset="0.35" stop-color="#b4b4b4"/><stop offset="0.72" stop-color="#585858"/><stop offset="1" stop-color="#050505"/></linearGradient>
<g clip-path="url(#k8)">
<polygon points="557,446.4 590.28,446.4 557,479.68" fill="url(#g8)"/>
<path d="M 590.28 447.4 C 584.9 454.93 588.13 467.84 580.06 471.61 C 572.53 474.84 564.99 470.53 558 479.68 Z" fill="#dadada" stroke="#1e1e1e" stroke-width="0.9" stroke-linejoin="round"/>
</g>
<rect x="558" y="447.4" width="53.8" height="53.8" rx="6.8" ry="6.8" fill="none" stroke="#2a2a2a" stroke-width="1.15"/>
<text x="584.9" y="495.2" font-size="18.6"  text-anchor="middle" fill="#111" transform="translate(584.9 495.2) scale(1.12 1) translate(-584.9 -495.2)" stroke="#111" stroke-width="0.25" stroke-linejoin="round">8</text>
<rect x="429.6" y="557.5" width="66.3" height="65.8" rx="8" ry="8" fill="#ffffff" stroke="#333" stroke-width="1.3"/>
<ellipse cx="462" cy="589.9" rx="13.6" ry="26.2" fill="none" stroke="#0d0d0d" stroke-width="1.45"/>
<ellipse cx="462" cy="589.6" rx="26.2" ry="13.6" fill="none" stroke="#ffffff" stroke-width="3.6"/>
<ellipse cx="462" cy="589.6" rx="26.2" ry="13.6" fill="none" stroke="#0d0d0d" stroke-width="1.45"/>
<polygon points="462.5,563.12 463.52,563.17 464.54,563.35 465.56,563.68 466.58,564.14 467.59,564.73 468.58,565.46 469.54,566.32 470.48,567.31 471.39,568.41 472.26,569.64 473.08,570.97 473.86,572.42 474.58,573.96 475.25,575.59 475.85,577.3 476.39,579.09 476.86,580.95 477.26,582.87 477.59,584.83 477.83,586.83 478,588.86 478.09,590.9 473.09,590.73 473.18,589.03 473.21,587.33 473.18,585.63 473.09,583.93 472.94,582.26 472.73,580.61 472.46,579 472.14,577.44 471.75,575.92 471.31,574.47 470.81,573.09 470.26,571.78 469.66,570.56 469.01,569.43 468.32,568.39 467.58,567.46 466.8,566.64 465.99,565.93 465.14,565.34 464.27,564.87 463.37,564.53 462.45,564.32" fill="#0d0d0d" stroke="#ffffff" stroke-width="0.9" stroke-linejoin="round" />
<polygon points="468.4,585.4 479.6,585.4 474.2,597.6" fill="#0d0d0d" stroke="#ffffff" stroke-width="0.9" stroke-linejoin="round" />
<polygon points="462.5,563.12 463.52,563.17 464.54,563.35 465.56,563.68 466.58,564.14 467.59,564.73 468.58,565.46 469.54,566.32 470.48,567.31 471.39,568.41 472.26,569.64 473.08,570.97 473.86,572.42 474.58,573.96 475.25,575.59 475.85,577.3 476.39,579.09 476.86,580.95 477.26,582.87 477.59,584.83 477.83,586.83 478,588.86 478.09,590.9 473.09,590.73 473.18,589.03 473.21,587.33 473.18,585.63 473.09,583.93 472.94,582.26 472.73,580.61 472.46,579 472.14,577.44 471.75,575.92 471.31,574.47 470.81,573.09 470.26,571.78 469.66,570.56 469.01,569.43 468.32,568.39 467.58,567.46 466.8,566.64 465.99,565.93 465.14,565.34 464.27,564.87 463.37,564.53 462.45,564.32" fill="#0d0d0d" stroke="none" stroke-width="0.8" stroke-linejoin="round" />
<polygon points="488.78,590.1 488.72,591.16 488.51,592.23 488.15,593.29 487.64,594.35 486.98,595.39 486.18,596.41 485.24,597.41 484.16,598.37 482.95,599.29 481.62,600.17 480.17,601 478.61,601.77 476.95,602.48 475.2,603.13 473.36,603.7 471.45,604.21 469.47,604.63 467.44,604.98 465.37,605.24 463.26,605.42 461.14,605.51 459.01,605.51 459.51,600.74 461.28,600.88 463.06,600.95 464.85,600.96 466.64,600.91 468.41,600.79 470.16,600.61 471.88,600.36 473.55,600.05 475.17,599.67 476.72,599.23 478.2,598.73 479.61,598.17 480.92,597.56 482.13,596.89 483.25,596.17 484.24,595.4 485.13,594.59 485.88,593.74 486.51,592.86 487.01,591.95 487.37,591.01 487.58,590.05" fill="#0d0d0d" stroke="#ffffff" stroke-width="0.9" stroke-linejoin="round" />
<polygon points="465.6,596.2 466.2,607.6 454.2,602.2" fill="#0d0d0d" stroke="#ffffff" stroke-width="0.9" stroke-linejoin="round" />
<polygon points="488.78,590.1 488.72,591.16 488.51,592.23 488.15,593.29 487.64,594.35 486.98,595.39 486.18,596.41 485.24,597.41 484.16,598.37 482.95,599.29 481.62,600.17 480.17,601 478.61,601.77 476.95,602.48 475.2,603.13 473.36,603.7 471.45,604.21 469.47,604.63 467.44,604.98 465.37,605.24 463.26,605.42 461.14,605.51 459.01,605.51 459.51,600.74 461.28,600.88 463.06,600.95 464.85,600.96 466.64,600.91 468.41,600.79 470.16,600.61 471.88,600.36 473.55,600.05 475.17,599.67 476.72,599.23 478.2,598.73 479.61,598.17 480.92,597.56 482.13,596.89 483.25,596.17 484.24,595.4 485.13,594.59 485.88,593.74 486.51,592.86 487.01,591.95 487.37,591.01 487.58,590.05" fill="#0d0d0d" stroke="none" stroke-width="0.8" stroke-linejoin="round" />
<polygon points="465.6,596.2 466.2,607.6 454.2,602.2" fill="#0d0d0d" stroke="none" stroke-width="0.8" stroke-linejoin="round" />
<polygon points="468.4,585.4 479.6,585.4 474.2,597.6" fill="#0d0d0d" stroke="none" stroke-width="0.8" stroke-linejoin="round" />
</svg>
</body></html>
